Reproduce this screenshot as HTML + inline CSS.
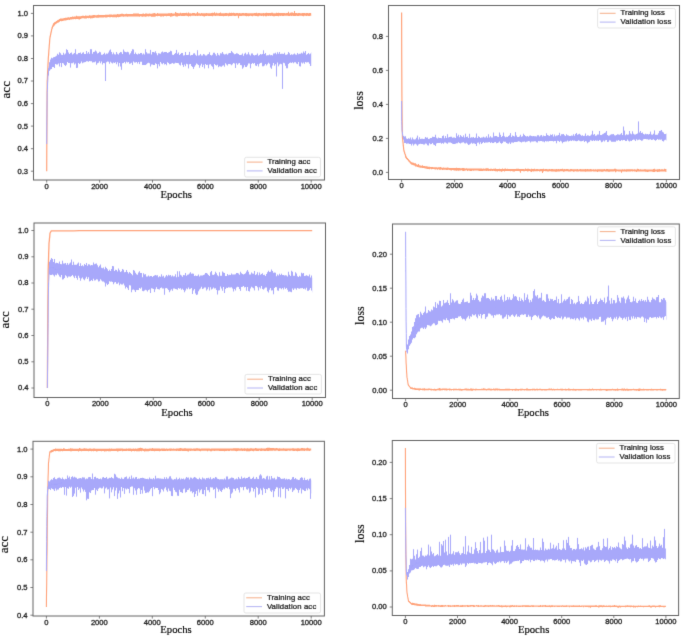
<!DOCTYPE html><html><head><meta charset="utf-8"><style>html,body{margin:0;padding:0;background:#fff;width:685px;height:637px;overflow:hidden;}svg{display:block;}.t{font-family:"Liberation Sans",sans-serif;font-size:6.8px;fill:#1a1a1a;stroke:#222;stroke-width:0.28px;}.lg{font-family:"Liberation Sans",sans-serif;font-size:6.9px;fill:#1a1a1a;stroke:#222;stroke-width:0.25px;}.s{font-family:"Liberation Serif",serif;fill:#000;stroke:#000;stroke-width:0.15px;}</style></head><body>
<svg width="685" height="637" viewBox="0 0 685 637">
<defs><filter id="bl" x="0" y="0" width="685" height="637" filterUnits="userSpaceOnUse" color-interpolation-filters="sRGB"><feConvolveMatrix order="3" kernelMatrix="1 8 1 8 64 8 1 8 1" divisor="100" edgeMode="duplicate"/></filter></defs><g filter="url(#bl)"><rect width="685" height="637" fill="#fff"/>
<clipPath id="cA"><rect x="33.5" y="5.5" width="291" height="174.5"/></clipPath>
<g clip-path="url(#cA)">
<path fill="#FFA27A" d="M46.7 139.2V139.2H47V74.9H48V54.9H49V41.3H50V33.7H51V29.3H52V25.7H53V23.2H54V22.3H55V21.8H56V21.1H57V20.3H58V19.7H59V19H60V18.6H61V18.6H62V18.4H63V18.3H64V17.9H65V17.8H66V17.7H67V17.5H68V17.3H69V17.4H70V17.1H71V17.1H72V16.6H73V16.8H74V16.5H75V16.4H76V15.8H77V16.3H78V16.2H79V16.2H80V16.2H81V16H82V15.7H83V15.7H84V15.9H85V15.6H86V15.7H87V15.8H88V15.7H89V15.3H90V15.5H91V15.6H92V15.2H93V15.1H94V15H95V15.2H96V15.2H97V15.1H98V14.8H99V15H100V15H101V15.1H102V15.1H103V14.9H104V14.9H105V14.8H106V14.8H107V14.8H108V14.8H109V14.5H110V14.6H111V14.5H112V14.7H113V14.6H114V14.4H115V14.6H116V14.4H117V14H118V14.3H119V14.3H120V13.9H121V13.8H122V13.8H123V14H124V14.2H125V14.1H126V13.8H127V14.1H128V14.1H129V13.9H130V14H131V14.1H132V13.9H133V13.4H134V13.6H135V13.6H136V13.6H137V13.5H138V13.5H139V13.9H140V14H141V14H142V13.7H143V13.5H144V13.9H145V13.6H146V13.5H147V13.8H148V13.7H149V13.6H150V13.7H151V13.8H152V13.5H153V13.3H154V13.1H155V13.5H156V13.7H157V13.1H158V13.4H159V13.6H160V13.6H161V13.5H162V13.5H163V13.4H164V13.4H165V13.5H166V13.5H167V13.5H168V13.3H169V13.2H170V13.3H171V13.1H172V13.4H173V13.5H174V13.4H175V11.9H176V12.8H177V13.1H178V13.3H179V13.2H180V12.7H181V13.3H182V12.9H183V12.9H184V13.1H185V12.9H186V12.7H187V13.2H188V12.6H189V13.3H190V13.3H191V13.4H192V12.9H193V13H194V13.1H195V13.4H196V13.2H197V12.1H198V13.3H199V13.3H200V13.4H201V12.9H202V13.2H203V13.3H204V13.2H205V13.3H206V13.1H207V13.2H208V13.3H209V13.3H210V13.2H211V13H212V12.8H213V13H214V12.2H215V13.3H216V12.8H217V13.3H218V13.3H219V13.1H220V12.6H221V13.3H222V13.2H223V13.2H224V13.3H225V13.1H226V12.9H227V13.2H228V13.2H229V12.7H230V12.9H231V12.7H232V12.9H233V12.7H234V12.9H235V13.2H236V13.1H237V13H238V13.2H239V13.1H240V13.2H241V13.2H242V13.1H243V13.1H244V13.3H245V13.1H246V12.9H247V13.3H248V13.2H249V13.2H250V13.3H251V13.2H252V13.2H253V13.3H254V13.1H255V13H256V12.8H257V13.3H258V13.1H259V13.1H260V13.3H261V13.3H262V13.3H263V13.1H264V13.3H265V13.1H266V12.8H267V13.1H268V13.1H269V13H270V12.9H271V12.7H272V12.7H273V13.2H274V13.2H275V13.2H276V12.8H277V12.9H278V12.8H279V12.9H280V13H281V13.1H282V12.9H283V13H284V12.9H285V13.2H286V12.9H287V13.1H288V11.7H289V13.2H290V12.7H291V12.6H292V12.5H293V13.1H294V11.1H295V13.1H296V13H297V13.2H298V13.1H299V12.9H300V13.3H301V13.3H302V13.1H303V13.1H304V13H305V13.2H306V12.9H307V13.1H308V13.3H309V13H310V12.9H311V13.3H311.2V16H311V15.7H310V16.1H309V16H308V15.8H307V15.9H306V15.7H305V15.7H304V16.2H303V16H302V15.8H301V15.8H300V15.8H299V16H298V15.9H297V15.7H296V16.1H295V16H294V15.9H293V15.8H292V15.9H291V15.8H290V16.1H289V16H288V15.8H287V15.8H286V15.8H285V15.8H284V16H283V16H282V15.8H281V16H280V15.8H279V16.2H278V16H277V15.9H276V16.1H275V16.2H274V16.2H273V15.9H272V15.8H271V16H270V15.7H269V16.1H268V15.8H267V16.2H266V16.2H265V15.8H264V16.3H263V15.8H262V15.9H261V15.8H260V15.7H259V16.3H258V16.3H257V16.1H256V15.9H255V15.8H254V15.8H253V16.2H252V16.1H251V15.8H250V15.9H249V16.2H248V16H247V16.2H246V16H245V15.8H244V15.8H243V15.8H242V16.1H241V15.9H240V16.1H239V18.3H238V15.7H237V15.7H236V15.9H235V15.9H234V15.8H233V15.8H232V15.9H231V16.1H230V16H229V16.2H228V15.8H227V16H226V16.1H225V16H224V16.2H223V16.1H222V16H221V15.9H220V15.9H219V15.8H218V15.7H217V15.8H216V16H215V15.7H214V15.8H213V16.2H212V16.1H211V16.1H210V15.9H209V16.1H208V15.7H207V15.9H206V16H205V16.6H204V16.2H203V15.9H202V15.8H201V15.9H200V15.7H199V15.7H198V15.9H197V15.8H196V16H195V15.8H194V15.8H193V15.8H192V15.8H191V16.2H190V15.9H189V16.4H188V16.1H187V15.7H186V15.7H185V16H184V16H183V16.1H182V16.1H181V15.8H180V16H179V16.1H178V16.4H177V16.4H176V16.2H175V15.8H174V16H173V16.3H172V16.5H171V16.8H170V16.1H169V16H168V16H167V16.2H166V16H165V16.1H164V16.4H163V16.2H162V16.6H161V16.4H160V16.1H159V16H158V16.3H157V16.1H156V16.6H155V16.7H154V16.8H153V16.7H152V16.7H151V16.3H150V16.2H149V16.6H148V16.3H147V16.5H146V16.7H145V16.6H144V16.5H143V16.7H142V16.4H141V16.3H140V16.7H139V16.4H138V16.4H137V16.4H136V16.5H135V16.6H134V16.6H133V16.5H132V16.5H131V16.5H130V16.5H129V16.6H128V16.7H127V16.6H126V16.5H125V16.6H124V16.8H123V16.6H122V16.6H121V16.7H120V17.1H119V17.2H118V17.1H117V17.6H116V17.3H115V17.3H114V17.2H113V17.2H112V17.1H111V17.3H110V17.2H109V17.1H108V17.2H107V17.5H106V17.4H105V17.3H104V17.5H103V17.5H102V17.6H101V17.6H100V17.5H99V17.8H98V17.7H97V17.8H96V17.6H95V17.7H94V18H93V18.2H92V18.2H91V18.4H90V18H89V18.3H88V18.1H87V18.6H86V18.6H85V18.5H84V18.3H83V18.3H82V18.6H81V19H80V19.4H79V19.3H78V19.1H77V19.1H76V19.3H75V19.1H74V19.3H73V19.3H72V19.6H71V19.5H70V19.9H69V19.8H68V20.1H67V20.2H66V20.4H65V20.5H64V20.8H63V21.1H62V21.2H61V21.1H60V21.7H59V22.4H58V22.8H57V23.4H56V24.3H55V25.4H54V26.6H53V28.4H52V31.5H51V36.3H50V44.2H49V56.5H48V76H47V139.3H46.7Z"/>
<polyline fill="none" stroke="#FFA27A" stroke-width="1.2" points="46.7,171.2 46.8,143 47,114.8 47.1,97.9 47.2,81 47.4,78.2 47.5,75.4 47.6,72.6 47.8,69.8 47.9,66.9 48,64.1 48.2,61.3 48.3,58.5 48.4,56.8 48.6,55.1 48.7,53.4 48.8,51.7 48.9,50 49.1,48.3 49.2,46.7 49.3,45 49.5,43.3 49.6,41.6 49.7,39.9 49.9,38.2 50,37.6 50.1,36.9 50.3,36.3 50.4,35.7 50.5,35 50.7,34.4 50.8,33.8 50.9,33.1 51.1,32.5 51.2,31.9 51.3,31.2 51.5,30.6 51.6,30 51.7,29.3 51.9,28.7 52,28.1 52.1,27.7 52.3,27.4 52.4,27.1 52.5,26.8 52.7,26.5 52.8,26.2 52.9,25.9 53,25.5 53.2,25.2 53.3,24.9 53.4,24.7 53.6,24.6 53.7,24.5 53.8,24.4 54,24.2 54.1,24.1 54.2,24 54.4,23.9 54.5,23.8 54.6,23.7 54.8,23.6 54.9,23.5 55,23.4 55.2,23.3 55.3,23.2 55.4,23.1 55.6,23 55.7,22.9 55.8,22.8 56,22.7 56.1,22.6 56.2,22.5 56.4,22.4 56.5,22.3 56.6,22.2 56.8,22.1 56.9,22 57,21.9 57.1,21.8 57.3,21.7 57.4,21.7 57.5,21.6 57.7,21.5 57.8,21.4 57.9,21.4 58.1,21.3 58.2,21.2 58.3,21.2 58.5,21.1 58.6,21 58.7,20.9 58.9,20.9 59,20.8 59.1,20.7 59.3,20.6 59.4,20.6 59.5,20.5 59.7,20.4 59.8,20.3 59.9,20.3 60.1,20.2 60.2,20.1 60.3,20.1 60.5,20 60.6,19.9 60.7,19.9 60.9,19.9 61,19.9 61.1,19.8 61.2,19.8 61.4,19.8 61.5,19.8 61.6,19.8 61.8,19.7 61.9,19.7 62,19.7 62.2,19.7 62.3,19.7 62.4,19.6"/>
<path fill="#A8A8FA" d="M46.7 123.3V123.3H47V83.5H48V68.2H49V62.3H50V59.5H51V57.7H52V58.3H53V57.2H54V56.9H55V56.4H56V55.7H57V53.8H58V54.7H59V54.7H60V53.2H61V54.7H62V55.1H63V52.8H64V54.4H65V53.4H66V49.3H67V52.8H68V52.5H69V54H70V52.9H71V52.5H72V54.5H73V53.7H74V53H75V54.6H76V54.2H77V54.2H78V52.9H79V53.1H80V52.5H81V54H82V52.8H83V52.3H84V53.9H85V54.1H86V51.1H87V53.4H88V52.1H89V53.8H90V53.8H91V49.3H92V53.8H93V52.1H94V51.7H95V50.6H96V51.4H97V53.4H98V53.1H99V51.8H100V52.2H101V54.7H102V54.7H103V54.1H104V52.8H105V54.4H106V53.6H107V53.8H108V52.5H109V50.5H110V49.6H111V52H112V54.3H113V52.5H114V54.2H115V54.4H116V51.9H117V53.8H118V54.4H119V53.1H120V52.1H121V52.3H122V53.9H123V52.4H124V51.4H125V52H126V52.3H127V51.7H128V52.2H129V54.4H130V53.2H131V51.2H132V49.2H133V49.5H134V54H135V52.6H136V53.9H137V54.5H138V53.5H139V54H140V53.1H141V52.9H142V54.5H143V53.6H144V54.4H145V49.9H146V52.3H147V53.5H148V53.4H149V53.6H150V54.6H151V54.4H152V51.9H153V51.9H154V52.4H155V51.2H156V53.3H157V55.2H158V53.3H159V53.5H160V53.7H161V52.2H162V51.5H163V52.6H164V52H165V52.1H166V52.1H167V53H168V52.6H169V52.1H170V50.8H171V51.3H172V54.8H173V55H174V54H175V53H176V52.8H177V53.7H178V52.6H179V55H180V54.1H181V53.1H182V52.9H183V55.5H184V55.2H185V51.9H186V55.1H187V54.9H188V54.8H189V53.9H190V55.5H191V55H192V55H193V53.4H194V53.2H195V54.8H196V55.7H197V55.5H198V55.4H199V55.3H200V54.1H201V55.6H202V55.4H203V54.1H204V54.6H205V55.5H206V55.4H207V54.6H208V54H209V52.3H210V55H211V55.4H212V54.8H213V52.8H214V52.7H215V54.3H216V55.7H217V52.9H218V54.8H219V55.5H220V53.3H221V53.6H222V52.1H223V53.8H224V54.4H225V54.2H226V53.7H227V54.7H228V53.4H229V52.9H230V52.9H231V51.1H232V52.2H233V53.3H234V54.2H235V53.9H236V53.3H237V53.6H238V54H239V55.1H240V55H241V54.7H242V53.5H243V55.7H244V53.7H245V52.8H246V54.4H247V54.2H248V52.2H249V54.4H250V55.6H251V53.6H252V53.4H253V55H254V55.4H255V55H256V54.7H257V53.4H258V55.8H259V55.1H260V54.1H261V54.6H262V54.1H263V55.6H264V53.9H265V52.9H266V55.4H267V55.3H268V55.2H269V54.6H270V55.2H271V55H272V55.4H273V53.6H274V53.4H275V52.7H276V54.2H277V55.3H278V53.7H279V51.9H280V53.9H281V53.8H282V53.7H283V53.9H284V52.7H285V54.8H286V54.7H287V54.2H288V52.1H289V53.2H290V54.9H291V54.3H292V54.7H293V54.3H294V53.4H295V54.6H296V54.8H297V53H298V54.2H299V53.7H300V53.8H301V52.7H302V53.6H303V51.5H304V52.7H305V50.9H306V54.8H307V54H308V53H309V54.3H310V53.6H311V52.3H311.2V66H311V65.9H310V63.7H309V62.3H308V62.3H307V62.5H306V62.1H305V63.7H304V62.5H303V63.4H302V62.6H301V64H300V63.5H299V62.1H298V62.8H297V63.4H296V62.2H295V62.3H294V63.2H293V62.3H292V63H291V62.6H290V62.9H289V63.9H288V68.3H287V68.2H286V65.7H285V63.3H284V62.7H283V65.9H282V64.2H281V63.7H280V64.4H279V62.7H278V62.6H277V64.6H276V64.2H275V65.7H274V62.9H273V65.6H272V66.1H271V67.4H270V63.8H269V62.8H268V64.2H267V65.5H266V63.9H265V65.4H264V66.2H263V66.3H262V62.8H261V62.9H260V63.8H259V66.6H258V64.2H257V66.1H256V65.6H255V63.1H254V63.7H253V63H252V63.9H251V63.6H250V63.4H249V63.5H248V65.6H247V67H246V66.9H245V65.3H244V67.5H243V68.7H242V65.3H241V65H240V63H239V63.5H238V64.7H237V63.3H236V63.7H235V63.6H234V63H233V64.3H232V65.3H231V64.2H230V63.9H229V64.1H228V65.4H227V64.5H226V63.3H225V63.3H224V65.2H223V65.8H222V66.7H221V66.6H220V66.3H219V65.9H218V64.7H217V65.6H216V65.1H215V64H214V69.2H213V66.7H212V65.7H211V64.2H210V64.4H209V68.3H208V64.8H207V64.9H206V63.9H205V68.4H204V64.8H203V66.9H202V63.8H201V65.6H200V67.8H199V65.1H198V64.3H197V63.6H196V65.3H195V66.8H194V68.8H193V67H192V66.1H191V63.9H190V64.3H189V64.5H188V64.2H187V63.8H186V66.2H185V64.4H184V65.3H183V65H182V62.5H181V65.4H180V64.8H179V63.3H178V63H177V62.9H176V62.8H175V63.6H174V63.7H173V62.9H172V63.4H171V63.9H170V64.2H169V63.1H168V62.3H167V65.3H166V64H165V64.5H164V63.1H163V64.3H162V63.4H161V62H160V66.2H159V64.3H158V64.4H157V64H156V63.2H155V65.1H154V65.1H153V64.4H152V64.4H151V66.6H150V63.2H149V62.7H148V63.2H147V64.2H146V65H145V64.9H144V64.9H143V65.1H142V61.8H141V61.8H140V63.3H139V61.9H138V63.4H137V62H136V62.5H135V62.6H134V61.6H133V65.1H132V62.7H131V63.6H130V63.8H129V62H128V62.6H127V61.7H126V63.5H125V62.1H124V62.9H123V63.2H122V61.8H121V66.5H120V63.1H119V66.6H118V62.3H117V64.2H116V62.2H115V62.9H114V62.6H113V63.5H112V62.7H111V61.8H110V63.7H109V61.7H108V61.6H107V62.3H106V65.2H105V63.2H104V62.9H103V64.4H102V61.6H101V63.2H100V61.3H99V62.8H98V63.2H97V64.8H96V61.6H95V62.2H94V62.2H93V62.4H92V61.3H91V61.2H90V61H89V61.7H88V61.2H87V61.2H86V61.9H85V62.2H84V62.5H83V63.3H82V61.4H81V63.3H80V64.1H79V62.9H78V67.7H77V68H76V63.4H75V64.4H74V62.4H73V63.3H72V63.3H71V64.1H70V63H69V63H68V62.1H67V64.7H66V65.9H65V64.9H64V63.5H63V62.9H62V64.3H61V63H60V66.5H59V63.6H58V64.5H57V64.6H56V64H55V67.9H54V66.9H53V67H52V68.9H51V69.6H50V70.7H49V75.6H48V88.9H47V124.3H46.7Z"/>
<polyline fill="none" stroke="#A8A8FA" stroke-width="1.0" points="46.7,144.1 46.8,126.1 47,108.1 47.1,100.2 47.2,92.3 47.4,89.3 47.5,86.3 47.6,83.3 47.8,80.3 47.9,77.3 48,74.3 48.2,73.5 48.3,72.7 48.4,71.9 48.6,71.1 48.7,70.3 48.8,69.5 48.9,68.7 49.1,68 49.2,67.2 49.3,66.4 49.5,66 49.6,65.7 49.7,65.4 49.9,65 50,64.7 50.1,64.3 50.3,64 50.4,63.7 50.5,63.3 50.7,63 50.8,62.9 50.9,62.8 51.1,62.8 51.2,62.7 51.3,62.6 51.5,62.5 51.6,62.5 51.7,62.4 51.9,62.3 52,62.2 52.1,62.2 52.3,62.1 52.4,62 52.5,61.9 52.7,61.9 52.8,61.8 52.9,61.7 53,61.6 53.2,61.6 53.3,61.5 53.4,61.4 53.6,61.3 53.7,61.3 53.8,61.2 54,61.1 54.1,61 54.2,61 54.4,60.9 54.5,60.8 54.6,60.7 54.8,60.7 54.9,60.7 55,60.6 55.2,60.6 55.3,60.5 55.4,60.5 55.6,60.5 55.7,60.4 55.8,60.4 56,60.3 56.1,60.3 56.2,60.3 56.4,60.2 56.5,60.2 56.6,60.1 56.8,60.1 56.9,60.1 57,60 57.1,60 57.3,60 57.4,59.9 57.5,59.9 57.7,59.8 57.8,59.8 57.9,59.8 58.1,59.7 58.2,59.7 58.3,59.6 58.5,59.6 58.6,59.6 58.7,59.5 58.9,59.5 59,59.4 59.1,59.4 59.3,59.4 59.4,59.3 59.5,59.3 59.7,59.2 59.8,59.2 59.9,59.2 60.1,59.1 60.2,59.1 60.3,59.1 60.5,59.1 60.6,59.1 60.7,59.1 60.9,59.1 61,59 61.1,59 61.2,59 61.4,59 61.5,59 61.6,59 61.8,59 61.9,58.9 62,58.9 62.2,58.9 62.3,58.9 62.4,58.9"/>
<line x1="188.5" y1="59" x2="188.5" y2="68.4" stroke="#A8A8FA" stroke-width="1"/>
<line x1="300.5" y1="58.6" x2="300.5" y2="66.5" stroke="#A8A8FA" stroke-width="1"/>
<line x1="250.5" y1="59.2" x2="250.5" y2="68.3" stroke="#A8A8FA" stroke-width="1"/>
<line x1="224.5" y1="59.3" x2="224.5" y2="66.7" stroke="#A8A8FA" stroke-width="1"/>
<line x1="61.5" y1="59" x2="61.5" y2="67.1" stroke="#A8A8FA" stroke-width="1"/>
<line x1="245.5" y1="59.2" x2="245.5" y2="67" stroke="#A8A8FA" stroke-width="1"/>
<line x1="183.5" y1="59" x2="183.5" y2="66.9" stroke="#A8A8FA" stroke-width="1"/>
<line x1="271.5" y1="58.9" x2="271.5" y2="68.8" stroke="#A8A8FA" stroke-width="1"/>
<line x1="157.5" y1="58.4" x2="157.5" y2="68.4" stroke="#A8A8FA" stroke-width="1"/>
<line x1="70.5" y1="58.2" x2="70.5" y2="67.6" stroke="#A8A8FA" stroke-width="1"/>
<line x1="278.5" y1="58.9" x2="278.5" y2="66.3" stroke="#A8A8FA" stroke-width="1"/>
<line x1="235.5" y1="59.3" x2="235.5" y2="68" stroke="#A8A8FA" stroke-width="1"/>
<line x1="299.5" y1="58.6" x2="299.5" y2="66.2" stroke="#A8A8FA" stroke-width="1"/>
<line x1="193.5" y1="59.1" x2="193.5" y2="68.7" stroke="#A8A8FA" stroke-width="1"/>
<line x1="218.5" y1="59.3" x2="218.5" y2="67.2" stroke="#A8A8FA" stroke-width="1"/>
<line x1="75.5" y1="58" x2="75.5" y2="49.2" stroke="#A8A8FA" stroke-width="1"/>
<line x1="176.5" y1="58.9" x2="176.5" y2="49.9" stroke="#A8A8FA" stroke-width="1"/>
<line x1="90.5" y1="57.6" x2="90.5" y2="49.2" stroke="#A8A8FA" stroke-width="1"/>
<line x1="263.5" y1="59" x2="263.5" y2="50.3" stroke="#A8A8FA" stroke-width="1"/>
<line x1="59.5" y1="59.4" x2="59.5" y2="52.3" stroke="#A8A8FA" stroke-width="1"/>
<line x1="67.5" y1="58.3" x2="67.5" y2="50" stroke="#A8A8FA" stroke-width="1"/>
<line x1="145.5" y1="58.1" x2="145.5" y2="49.2" stroke="#A8A8FA" stroke-width="1"/>
<line x1="150.5" y1="58.2" x2="150.5" y2="49.9" stroke="#A8A8FA" stroke-width="1"/>
<line x1="277.5" y1="58.9" x2="277.5" y2="52.2" stroke="#A8A8FA" stroke-width="1"/>
<line x1="197.5" y1="59.1" x2="197.5" y2="50.2" stroke="#A8A8FA" stroke-width="1"/>
<line x1="189.5" y1="59" x2="189.5" y2="51.9" stroke="#A8A8FA" stroke-width="1"/>
<line x1="123.5" y1="57.9" x2="123.5" y2="49.5" stroke="#A8A8FA" stroke-width="1"/>
<line x1="76.5" y1="58" x2="76.5" y2="66.4" stroke="#A8A8FA" stroke-width="1"/>
<line x1="105.5" y1="57.7" x2="105.5" y2="81" stroke="#A8A8FA" stroke-width="1"/>
<line x1="121.5" y1="57.9" x2="121.5" y2="69.8" stroke="#A8A8FA" stroke-width="1"/>
<line x1="139.5" y1="58" x2="139.5" y2="64.1" stroke="#A8A8FA" stroke-width="1"/>
<line x1="184.5" y1="59" x2="184.5" y2="64.1" stroke="#A8A8FA" stroke-width="1"/>
<line x1="276.5" y1="58.9" x2="276.5" y2="76.5" stroke="#A8A8FA" stroke-width="1"/>
<line x1="282.5" y1="58.8" x2="282.5" y2="88.9" stroke="#A8A8FA" stroke-width="1"/>
<line x1="297.5" y1="58.6" x2="297.5" y2="64.1" stroke="#A8A8FA" stroke-width="1"/>
</g>
<rect x="33.5" y="5.5" width="291" height="174.5" fill="none" stroke="#626262" stroke-width="1"/>
<line x1="30.9" y1="171.2" x2="33.5" y2="171.2" stroke="#626262" stroke-width="0.8"/>
<line x1="30.9" y1="148.7" x2="33.5" y2="148.7" stroke="#626262" stroke-width="0.8"/>
<line x1="30.9" y1="126.1" x2="33.5" y2="126.1" stroke="#626262" stroke-width="0.8"/>
<line x1="30.9" y1="103.6" x2="33.5" y2="103.6" stroke="#626262" stroke-width="0.8"/>
<line x1="30.9" y1="81" x2="33.5" y2="81" stroke="#626262" stroke-width="0.8"/>
<line x1="30.9" y1="58.5" x2="33.5" y2="58.5" stroke="#626262" stroke-width="0.8"/>
<line x1="30.9" y1="35.9" x2="33.5" y2="35.9" stroke="#626262" stroke-width="0.8"/>
<line x1="30.9" y1="13.4" x2="33.5" y2="13.4" stroke="#626262" stroke-width="0.8"/>
<line x1="46.7" y1="180" x2="46.7" y2="182.6" stroke="#626262" stroke-width="0.8"/>
<line x1="99.6" y1="180" x2="99.6" y2="182.6" stroke="#626262" stroke-width="0.8"/>
<line x1="152.5" y1="180" x2="152.5" y2="182.6" stroke="#626262" stroke-width="0.8"/>
<line x1="205.4" y1="180" x2="205.4" y2="182.6" stroke="#626262" stroke-width="0.8"/>
<line x1="258.3" y1="180" x2="258.3" y2="182.6" stroke="#626262" stroke-width="0.8"/>
<line x1="311.2" y1="180" x2="311.2" y2="182.6" stroke="#626262" stroke-width="0.8"/>
<rect x="244.6" y="157.3" width="75.9" height="19.7" rx="1.8" fill="#fff" fill-opacity="0.8" stroke="#ddd" stroke-width="0.8"/>
<line x1="246.8" y1="162.1" x2="262.6" y2="162.1" stroke="#F5B18C" stroke-width="1.05"/>
<line x1="246.8" y1="170.9" x2="262.6" y2="170.9" stroke="#B6B6F4" stroke-width="1.05"/>
<clipPath id="cB"><rect x="388.5" y="5.5" width="291" height="174"/></clipPath>
<g clip-path="url(#cB)">
<path fill="#FFA27A" d="M401.6 75.4V75.4H402V137.2H403V146.5H404V151.4H405V154.4H406V156.7H407V157.9H408V159.2H409V160.4H410V161.4H411V162.2H412V162.6H413V162.7H414V163.2H415V163.2H416V164.4H417V164.7H418V164.1H419V165.3H420V165.4H421V165.7H422V165.3H423V165.9H424V166H425V166.3H426V166.2H427V166.5H428V166.7H429V166.7H430V166.9H431V167H432V166.9H433V167.2H434V167.3H435V167.2H436V167.3H437V167.4H438V167.3H439V167.3H440V167H441V167.6H442V167.7H443V167.6H444V167.8H445V167.7H446V167.7H447V167.5H448V167.7H449V167.9H450V168H451V168.1H452V168.1H453V167.9H454V168.1H455V167.9H456V167.7H457V168.1H458V167.9H459V168.1H460V168.2H461V168.2H462V168H463V168.1H464V168.2H465V168.5H466V168.3H467V168.5H468V168.4H469V168.5H470V168.5H471V168.5H472V168.6H473V168.4H474V168.5H475V168.4H476V168.6H477V168.6H478V168.6H479V168.5H480V168.6H481V168.6H482V168.8H483V168.6H484V168.8H485V168.6H486V168.3H487V168.2H488V168.4H489V168.9H490V168.7H491V168.7H492V168.9H493V168.8H494V168.8H495V168.5H496V168.9H497V168.9H498V168.9H499V168.8H500V169H501V168.9H502V168.6H503V168.9H504V168.7H505V168.6H506V169H507V168.8H508V169H509V169H510V168.9H511V168.9H512V169H513V169H514V169H515V169.1H516V168.8H517V168.8H518V168.8H519V169H520V169H521V169H522V169H523V169H524V169.2H525V168.6H526V169H527V168.8H528V168.8H529V168.9H530V169.3H531V168.8H532V169.1H533V169.1H534V168.7H535V169.2H536V169.1H537V169H538V169.2H539V169.2H540V169.1H541V169.1H542V169H543V168.7H544V169.2H545V169H546V169H547V169.3H548V169.3H549V169.1H550V169.2H551V168.9H552V169.1H553V169.2H554V169.3H555V169.3H556V169.1H557V169.3H558V169.1H559V169.3H560V169H561V168.9H562V168.8H563V169.3H564V168.9H565V169.2H566V169.1H567V168.9H568V169.2H569V169.4H570V169H571V169H572V169.3H573V169.2H574V169.3H575V169.2H576V169.2H577V169.1H578V169.4H579V169.2H580V169.1H581V169.2H582V169.3H583V169.3H584V169.2H585V169.1H586V169.2H587V168.9H588V169.2H589V169.2H590V169.1H591V169.3H592V169.4H593V169.2H594V169.4H595V169.3H596V169.4H597V169.3H598V169.3H599V169.3H600V169.2H601V169.2H602V169.3H603V169.3H604V169.1H605V169.4H606V169.1H607V169.1H608V169.3H609V169.3H610V169.3H611V169.3H612V169.2H613V169.2H614V168.8H615V168.8H616V169.2H617V169.4H618V169.4H619V169.5H620V169.4H621V169.4H622V169.2H623V169.4H624V169.3H625V169.4H626V169.2H627V169.3H628V169.3H629V169.2H630V169.3H631V169.2H632V169.3H633V169.5H634V169.3H635V169.4H636V169.4H637V168.8H638V169.1H639V169.5H640V169.2H641V169.5H642V169.4H643V169.5H644V169.2H645V169.3H646V169.5H647V169.5H648V169.6H649V169.4H650V169.6H651V169.5H652V169.5H653V169.1H654V168.7H655V169.4H656V169.5H657V169.3H658V169.3H659V169H660V169.6H661V169.3H662V169.3H663V169.4H664V168.7H665V169.1H666V169H666.4V172H666V171.8H665V171.6H664V171.4H663V171.6H662V171.6H661V171.6H660V171.7H659V171.8H658V171.9H657V171.5H656V171.6H655V171.9H654V171.9H653V171.7H652V171.6H651V171.4H650V171.6H649V171.8H648V171.9H647V171.8H646V171.7H645V171.6H644V171.6H643V171.5H642V171.4H641V171.5H640V171.4H639V171.6H638V171.4H637V172H636V171.6H635V171.5H634V171.3H633V171.6H632V171.3H631V171.4H630V171.5H629V171.4H628V171.4H627V171.8H626V171.6H625V171.5H624V171.6H623V171.4H622V172.7H621V171.4H620V171.5H619V171.4H618V171.3H617V171.5H616V172.2H615V171.3H614V171.4H613V171.4H612V171.4H611V171.4H610V171.8H609V171.7H608V171.6H607V171.6H606V171.5H605V171.3H604V171.4H603V171.7H602V171.7H601V171.6H600V171.5H599V171.4H598V171.9H597V171.5H596V171.5H595V171.6H594V171.6H593V171.3H592V171.5H591V171.4H590V171.4H589V171.5H588V171.5H587V171.6H586V171.7H585V171.4H584V171.4H583V171.6H582V171.4H581V171.4H580V171.3H579V171.6H578V171.5H577V171.6H576V171.3H575V171.6H574V171.8H573V171.2H572V171.2H571V171.4H570V171.4H569V171.4H568V171.3H567V171.2H566V171.2H565V171.5H564V171.8H563V171.2H562V171.3H561V171.3H560V171.5H559V171.6H558V171.5H557V171.8H556V171.7H555V171.4H554V171.5H553V171.5H552V171.5H551V171.3H550V171.2H549V171.5H548V171.4H547V171.3H546V171.2H545V171.1H544V171.5H543V172.9H542V171.2H541V171.2H540V171.4H539V171.1H538V171.2H537V171.2H536V171.2H535V171.2H534V171.4H533V171.2H532V171.9H531V171.6H530V171.1H529V171.3H528V171.5H527V171.1H526V171.1H525V171.2H524V171.2H523V171H522V171H521V172.7H520V171.2H519V171H518V171.1H517V171.1H516V170.9H515V171.4H514V171.4H513V171.2H512V170.9H511V171.2H510V171H509V171H508V170.9H507V170.9H506V171H505V171.5H504V170.9H503V171.3H502V171.7H501V171.2H500V171.3H499V171.1H498V171.4H497V171.3H496V171.3H495V171.1H494V170.8H493V170.9H492V170.8H491V170.9H490V170.7H489V170.9H488V170.8H487V170.9H486V170.8H485V170.7H484V170.8H483V170.9H482V170.9H481V170.9H480V170.9H479V170.7H478V170.6H477V170.6H476V170.6H475V170.6H474V170.7H473V170.5H472V170.9H471V171.1H470V170.7H469V170.4H468V171H467V170.3H466V170.5H465V170.7H464V170.9H463V170.8H462V170.3H461V170.4H460V170.5H459V170.7H458V170.6H457V170.7H456V170.4H455V170.5H454V170.3H453V170.1H452V170.5H451V170.3H450V170.1H449V169.8H448V170H447V169.9H446V169.7H445V169.7H444V169.7H443V169.9H442V169.6H441V169.7H440V169.7H439V169.3H438V169.8H437V169.3H436V169.4H435V169.2H434V169.1H433V169.1H432V169.2H431V168.8H430V169.2H429V168.9H428V169.1H427V168.7H426V168.6H425V168.3H424V168.1H423V167.9H422V167.8H421V167.8H420V167.4H419V167.2H418V167.1H417V166.6H416V166.4H415V165.6H414V165.3H413V164.8H412V164.6H411V163.6H410V162.3H409V161.3H408V160.1H407V159H406V157.4H405V153.6H404V148.1H403V138H402V75.6H401.6Z"/>
<polyline fill="none" stroke="#FFA27A" stroke-width="1.2" points="401.6,12.6 401.7,54.3 401.9,95.9 402,107.2 402.1,118.6 402.3,129.9 402.4,134.2 402.5,138 402.7,139.3 402.8,140.5 402.9,141.8 403.1,143.1 403.2,144.4 403.3,145.7 403.5,147 403.6,148.2 403.7,149.5 403.9,150.5 404,150.9 404.1,151.3 404.2,151.7 404.4,152.1 404.5,152.4 404.6,152.8 404.8,153.2 404.9,153.6 405,154 405.2,154.4 405.3,154.8 405.4,155.2 405.6,155.6 405.7,156 405.8,156.4 406,156.8 406.1,157.2 406.2,157.6 406.4,157.9 406.5,158 406.6,158.2 406.8,158.3 406.9,158.5 407,158.6 407.2,158.8 407.3,158.9 407.4,159.1 407.6,159.2 407.7,159.4 407.8,159.5 408,159.7 408.1,159.8 408.2,159.9 408.4,160.1 408.5,160.2 408.6,160.4 408.7,160.5 408.9,160.7 409,160.8 409.1,161 409.3,161.1 409.4,161.3 409.5,161.4 409.7,161.6 409.8,161.7 409.9,161.9 410.1,162 410.2,162.2 410.3,162.3 410.5,162.5 410.6,162.6 410.7,162.8 410.9,162.9 411,163.1 411.1,163.2 411.3,163.4 411.4,163.4 411.5,163.5 411.7,163.5 411.8,163.6 411.9,163.6 412.1,163.7 412.2,163.7 412.3,163.8 412.5,163.8 412.6,163.9 412.7,163.9 412.9,164 413,164 413.1,164.1 413.3,164.1 413.4,164.2 413.5,164.2 413.6,164.3 413.8,164.3 413.9,164.4 414,164.4 414.2,164.5 414.3,164.5 414.4,164.5 414.6,164.6 414.7,164.6 414.8,164.7 415,164.7 415.1,164.8 415.2,164.8 415.4,164.9 415.5,164.9 415.6,165 415.8,165 415.9,165.1 416,165.1 416.2,165.2 416.3,165.2 416.4,165.3 416.6,165.3 416.7,165.4 416.8,165.4 417,165.5 417.1,165.5 417.2,165.6 417.4,165.6"/>
<path fill="#A8A8FA" d="M401.6 123.5V123.5H402V132.6H403V135.9H404V136.6H405V136.3H406V138.6H407V139H408V138.2H409V138.8H410V137.4H411V139.5H412V139.3H413V139.2H414V139.6H415V139.2H416V137.7H417V138.9H418V139.4H419V137.3H420V138.9H421V138.7H422V138.8H423V139H424V138.8H425V136.9H426V137.8H427V137.6H428V139H429V138.8H430V138.1H431V138.1H432V136.7H433V137H434V137H435V134.7H436V137.7H437V138.6H438V137.5H439V138.1H440V138.1H441V138.2H442V136H443V135.4H444V138.3H445V137.6H446V138.1H447V137.6H448V137.6H449V137H450V136.7H451V136.8H452V137.7H453V137.5H454V137.4H455V137.9H456V133.2H457V136.3H458V134.7H459V137.2H460V136.7H461V136.3H462V137H463V138.1H464V137.6H465V137.4H466V137H467V136.5H468V137.9H469V137H470V137.7H471V137.2H472V137.4H473V137H474V138.1H475V137.5H476V133.5H477V137.9H478V136.2H479V136.9H480V137.9H481V137.5H482V137.5H483V136.7H484V137.4H485V137.5H486V136.2H487V137.7H488V134.2H489V137.5H490V136.3H491V137.4H492V137.4H493V132.5H494V136.3H495V136H496V136H497V136.8H498V136.9H499V136.9H500V134.9H501V136.9H502V135.9H503V136.3H504V136.2H505V137.2H506V136.7H507V137.1H508V135.9H509V135.2H510V136.8H511V137.1H512V135.4H513V136.1H514V136.4H515V136.5H516V135.5H517V137H518V136.9H519V136.6H520V134.8H521V136.8H522V136.3H523V133.8H524V134.9H525V135.9H526V136.6H527V136.1H528V136.7H529V135.8H530V135.5H531V136H532V136.3H533V135.9H534V136.3H535V136.2H536V136.5H537V135.3H538V135.2H539V136.4H540V135.4H541V135H542V136.5H543V135.6H544V136.1H545V136H546V134.7H547V135H548V135.5H549V135.9H550V134.4H551V134.9H552V134.2H553V136.4H554V134.4H555V136.3H556V135.4H557V135.5H558V135.1H559V135.4H560V135.8H561V134.3H562V134.3H563V134H564V135.2H565V136.1H566V134.2H567V135.3H568V135.4H569V136H570V136.1H571V135.6H572V135.7H573V134.3H574V135.8H575V134.1H576V132.9H577V134.7H578V134.2H579V135H580V134.7H581V135.7H582V135.2H583V136H584V135.7H585V133.6H586V135.9H587V135.3H588V135.4H589V135.9H590V135.6H591V134.6H592V134.1H593V134.7H594V134H595V135.7H596V135.4H597V134.4H598V134.5H599V130.9H600V134.9H601V134.9H602V134.2H603V133.8H604V133.1H605V132.4H606V131.1H607V135H608V135.8H609V135.6H610V134.7H611V134.3H612V134.2H613V134.1H614V135.3H615V135.6H616V134.9H617V134.2H618V134.4H619V134.8H620V134.2H621V133H622V135.1H623V134.8H624V133.9H625V135.3H626V134.3H627V134.8H628V134.4H629V131.1H630V133.6H631V134.2H632V134.4H633V133.7H634V134.4H635V134.6H636V133.9H637V133.5H638V134.1H639V132.4H640V130.9H641V133H642V132.5H643V133.9H644V134.5H645V133.7H646V134.3H647V134H648V134.5H649V134.1H650V133.2H651V134.5H652V134.7H653V133.7H654V134.7H655V134.8H656V134.7H657V134.7H658V133.2H659V131H660V130.7H661V130.1H662V131.8H663V132.4H664V134.1H665V133.9H666V133.5H666.4V140.5H666V139.8H665V140.2H664V141.4H663V141H662V139.6H661V139.7H660V139.5H659V139.8H658V139.1H657V139.9H656V140.7H655V140.1H654V139.3H653V139.7H652V139.9H651V139.2H650V139.5H649V139.8H648V139.2H647V139.2H646V139.1H645V139.1H644V139.3H643V140.4H642V140.7H641V139.9H640V139.5H639V139.8H638V140.3H637V139.2H636V141.1H635V139.7H634V139.4H633V139.9H632V140.9H631V140.8H630V141.5H629V140.7H628V139.6H627V141H626V140.9H625V140H624V140.1H623V140.4H622V140H621V140.9H620V140.8H619V139.9H618V140.8H617V140.5H616V141.8H615V141.7H614V141.8H613V141.7H612V141.7H611V140.4H610V140.2H609V141.7H608V142H607V140.1H606V140.3H605V141.6H604V140.4H603V141.7H602V142.2H601V140.6H600V140.1H599V140.9H598V140.4H597V140.8H596V140.2H595V140.9H594V140.3H593V141.1H592V140.5H591V140.3H590V141.7H589V142.2H588V143.3H587V141.6H586V141H585V141.9H584V140.4H583V141.1H582V141.2H581V141.2H580V140.7H579V140.3H578V140.9H577V141.3H576V141.1H575V140.5H574V140.8H573V140.2H572V140.9H571V140.6H570V141H569V141.4H568V140.4H567V141.4H566V141.4H565V141.8H564V142H563V143.2H562V141.4H561V140.7H560V142.1H559V140.9H558V140.7H557V143.2H556V141.1H555V140.9H554V141.4H553V140.9H552V140.9H551V141H550V141H549V141.5H548V141.3H547V141.5H546V141H545V142.3H544V141.5H543V141.6H542V140.9H541V140.9H540V141.3H539V141H538V142.6H537V142.2H536V141.3H535V141.3H534V141.4H533V141.5H532V141.6H531V142.6H530V141.2H529V141H528V141.4H527V141.8H526V142.2H525V141.6H524V141.8H523V141.8H522V142.4H521V142H520V141.6H519V141.3H518V141.7H517V142H516V142H515V142H514V142.7H513V142.4H512V142.5H511V144.1H510V142.5H509V143.8H508V143.4H507V142.9H506V141.8H505V141.7H504V141.6H503V143.1H502V143.8H501V143.1H500V141.6H499V142.4H498V142.9H497V143.3H496V142H495V142.2H494V142.9H493V143H492V142.2H491V142.9H490V142.1H489V142.3H488V142.5H487V142.6H486V142.6H485V142.9H484V142.1H483V143H482V143.9H481V142.3H480V144.2H479V142.6H478V142.7H477V145.9H476V144H475V143.6H474V143.3H473V143.8H472V142.7H471V143.7H470V144.5H469V145H468V143.7H467V142.7H466V143.6H465V143.3H464V142.3H463V142.5H462V142.8H461V143.5H460V142.9H459V142.3H458V143.3H457V143.3H456V143.8H455V144H454V144H453V143.7H452V143H451V142.6H450V142.5H449V142.6H448V143.7H447V143.3H446V142.6H445V142.5H444V143.7H443V143.1H442V143.8H441V142.7H440V142.9H439V142.9H438V142.9H437V143.4H436V146.1H435V145H434V144.6H433V143.1H432V143.9H431V144.3H430V143.3H429V145.5H428V145.2H427V143.8H426V143.4H425V144.5H424V144.6H423V143.9H422V143.9H421V143.8H420V144H419V144.4H418V145.7H417V144.4H416V143.8H415V144.2H414V145.6H413V143.8H412V145.5H411V144.1H410V144.1H409V143.4H408V143.5H407V143.8H406V143.1H405V143H404V139.4H403V134.7H402V123.8H401.6Z"/>
<polyline fill="none" stroke="#A8A8FA" stroke-width="1.0" points="401.6,101 401.7,121.4 401.9,125.8 402,130.2 402.1,131.2 402.3,132.1 402.4,133 402.5,133.9 402.7,134.9 402.8,135.8 402.9,136.7 403.1,137 403.2,137.2 403.3,137.5 403.5,137.8 403.6,138.1 403.7,138.3 403.9,138.6 404,138.9 404.1,139.2 404.2,139.4 404.4,139.7 404.5,139.8 404.6,139.9 404.8,139.9 404.9,140 405,140 405.2,140.1 405.3,140.2 405.4,140.2 405.6,140.3 405.7,140.3 405.8,140.4 406,140.5 406.1,140.5 406.2,140.6 406.4,140.6 406.5,140.7 406.6,140.8 406.8,140.8 406.9,140.9 407,140.9 407.2,141 407.3,141 407.4,141.1 407.6,141.2 407.7,141.2 407.8,141.3 408,141.3 408.1,141.4 408.2,141.5 408.4,141.5 408.5,141.5 408.6,141.5 408.7,141.5 408.9,141.5 409,141.5 409.1,141.5 409.3,141.6 409.4,141.6 409.5,141.6 409.7,141.6 409.8,141.6 409.9,141.6 410.1,141.6 410.2,141.6 410.3,141.7 410.5,141.7 410.6,141.7 410.7,141.7 410.9,141.7 411,141.7 411.1,141.7 411.3,141.7 411.4,141.8 411.5,141.8 411.7,141.8 411.8,141.8 411.9,141.8 412.1,141.8 412.2,141.8 412.3,141.8 412.5,141.8 412.6,141.9 412.7,141.9 412.9,141.9 413,141.9 413.1,141.9 413.3,141.9 413.4,141.9 413.5,141.9 413.6,142 413.8,142 413.9,142 414,142 414.2,141.9 414.3,141.9 414.4,141.9 414.6,141.9 414.7,141.9 414.8,141.9 415,141.9 415.1,141.9 415.2,141.9 415.4,141.9 415.5,141.9 415.6,141.9 415.8,141.9 415.9,141.9 416,141.8 416.2,141.8 416.3,141.8 416.4,141.8 416.6,141.8 416.7,141.8 416.8,141.8 417,141.8 417.1,141.8 417.2,141.8 417.4,141.8"/>
<line x1="412.5" y1="141.9" x2="412.5" y2="137.5" stroke="#A8A8FA" stroke-width="1"/>
<line x1="510.5" y1="139.2" x2="510.5" y2="133.1" stroke="#A8A8FA" stroke-width="1"/>
<line x1="445.5" y1="140.5" x2="445.5" y2="136.1" stroke="#A8A8FA" stroke-width="1"/>
<line x1="469.5" y1="140.1" x2="469.5" y2="133.8" stroke="#A8A8FA" stroke-width="1"/>
<line x1="447.5" y1="140.4" x2="447.5" y2="134.2" stroke="#A8A8FA" stroke-width="1"/>
<line x1="579.5" y1="138.2" x2="579.5" y2="133.8" stroke="#A8A8FA" stroke-width="1"/>
<line x1="546.5" y1="138.6" x2="546.5" y2="133.3" stroke="#A8A8FA" stroke-width="1"/>
<line x1="515.5" y1="139.1" x2="515.5" y2="132.1" stroke="#A8A8FA" stroke-width="1"/>
<line x1="433.5" y1="140.9" x2="433.5" y2="136.9" stroke="#A8A8FA" stroke-width="1"/>
<line x1="650.5" y1="136.8" x2="650.5" y2="131.6" stroke="#A8A8FA" stroke-width="1"/>
<line x1="460.5" y1="140.1" x2="460.5" y2="135.1" stroke="#A8A8FA" stroke-width="1"/>
<line x1="503.5" y1="139.3" x2="503.5" y2="132.5" stroke="#A8A8FA" stroke-width="1"/>
<line x1="463.5" y1="140.1" x2="463.5" y2="135.4" stroke="#A8A8FA" stroke-width="1"/>
<line x1="559.5" y1="138.4" x2="559.5" y2="132.8" stroke="#A8A8FA" stroke-width="1"/>
<line x1="654.5" y1="136.9" x2="654.5" y2="130.4" stroke="#A8A8FA" stroke-width="1"/>
<line x1="500.5" y1="139.4" x2="500.5" y2="134.8" stroke="#A8A8FA" stroke-width="1"/>
<line x1="624.5" y1="137.5" x2="624.5" y2="130.6" stroke="#A8A8FA" stroke-width="1"/>
<line x1="417.5" y1="141.8" x2="417.5" y2="135.6" stroke="#A8A8FA" stroke-width="1"/>
<line x1="632.5" y1="137.2" x2="632.5" y2="131.3" stroke="#A8A8FA" stroke-width="1"/>
<line x1="465.5" y1="140.1" x2="465.5" y2="133.7" stroke="#A8A8FA" stroke-width="1"/>
<line x1="623.5" y1="137.5" x2="623.5" y2="126.5" stroke="#A8A8FA" stroke-width="1"/>
<line x1="638.5" y1="137" x2="638.5" y2="121.4" stroke="#A8A8FA" stroke-width="1"/>
<line x1="592.5" y1="138.1" x2="592.5" y2="130.8" stroke="#A8A8FA" stroke-width="1"/>
<line x1="499.5" y1="139.4" x2="499.5" y2="132.5" stroke="#A8A8FA" stroke-width="1"/>
</g>
<rect x="388.5" y="5.5" width="291" height="174" fill="none" stroke="#626262" stroke-width="1"/>
<line x1="385.9" y1="172.4" x2="388.5" y2="172.4" stroke="#626262" stroke-width="0.8"/>
<line x1="385.9" y1="138.4" x2="388.5" y2="138.4" stroke="#626262" stroke-width="0.8"/>
<line x1="385.9" y1="104.4" x2="388.5" y2="104.4" stroke="#626262" stroke-width="0.8"/>
<line x1="385.9" y1="70.4" x2="388.5" y2="70.4" stroke="#626262" stroke-width="0.8"/>
<line x1="385.9" y1="36.4" x2="388.5" y2="36.4" stroke="#626262" stroke-width="0.8"/>
<line x1="401.6" y1="179.5" x2="401.6" y2="182.1" stroke="#626262" stroke-width="0.8"/>
<line x1="454.6" y1="179.5" x2="454.6" y2="182.1" stroke="#626262" stroke-width="0.8"/>
<line x1="507.5" y1="179.5" x2="507.5" y2="182.1" stroke="#626262" stroke-width="0.8"/>
<line x1="560.5" y1="179.5" x2="560.5" y2="182.1" stroke="#626262" stroke-width="0.8"/>
<line x1="613.4" y1="179.5" x2="613.4" y2="182.1" stroke="#626262" stroke-width="0.8"/>
<line x1="666.4" y1="179.5" x2="666.4" y2="182.1" stroke="#626262" stroke-width="0.8"/>
<rect x="597.6" y="8.5" width="77.9" height="19.5" rx="1.8" fill="#fff" fill-opacity="0.8" stroke="#ddd" stroke-width="0.8"/>
<line x1="599.8" y1="13.3" x2="615.6" y2="13.3" stroke="#F5B18C" stroke-width="1.05"/>
<line x1="599.8" y1="22.1" x2="615.6" y2="22.1" stroke="#B6B6F4" stroke-width="1.05"/>
<clipPath id="cC"><rect x="34" y="223" width="291.5" height="174.5"/></clipPath>
<g clip-path="url(#cC)">
<path fill="#FFA27A" d="M47.4 331.1V331.1H48V259.8H49V238.6H50V232.3H51V230.8H52V230.8H53V230.8H54V230.8H55V230.8H56V230.8H57V230.8H58V230.8H59V230.8H60V230.8H61V230.8H62V230.8H63V230.8H64V230.8H65V230.8H66V230.8H67V230.8H68V230.8H69V230.8H70V230.8H71V230.8H72V230.8H73V230.8H74V230.8H75V230.8H76V230.7H77V230.7H78V230.7H79V230.7H80V230.7H81V230.7H82V230.7H83V230.7H84V230.7H85V230.7H86V230.7H87V230.7H88V230.7H89V230.7H90V230.7H91V230.7H92V230.7H93V230.7H94V230.7H95V230.7H96V230.7H97V230.7H98V230.7H99V230.7H100V230.7H101V230.7H102V230.7H103V230.7H104V230.7H105V230.7H106V230.7H107V230.7H108V230.7H109V230.7H110V230.7H111V230.7H112V230.7H113V230.7H114V230.7H115V230.7H116V230.7H117V230.7H118V230.7H119V230.7H120V230.7H121V230.7H122V230.7H123V230.7H124V230.7H125V230.7H126V230.7H127V230.7H128V230.7H129V230.7H130V230.7H131V230.7H132V230.7H133V230.7H134V230.7H135V230.7H136V230.7H137V230.7H138V230.7H139V230.7H140V230.7H141V230.7H142V230.7H143V230.7H144V230.7H145V230.7H146V230.7H147V230.7H148V230.7H149V230.7H150V230.7H151V230.7H152V230.7H153V230.7H154V230.7H155V230.7H156V230.7H157V230.7H158V230.7H159V230.7H160V230.7H161V230.7H162V230.7H163V230.7H164V230.7H165V230.7H166V230.7H167V230.7H168V230.7H169V230.7H170V230.7H171V230.7H172V230.7H173V230.7H174V230.7H175V230.7H176V230.7H177V230.7H178V230.7H179V230.7H180V230.7H181V230.7H182V230.7H183V230.7H184V230.7H185V230.7H186V230.7H187V230.7H188V230.7H189V230.7H190V230.7H191V230.7H192V230.7H193V230.7H194V230.7H195V230.7H196V230.7H197V230.7H198V230.7H199V230.7H200V230.7H201V230.7H202V230.7H203V230.7H204V230.7H205V230.7H206V230.7H207V230.7H208V230.7H209V230.7H210V230.7H211V230.7H212V230.7H213V230.7H214V230.7H215V230.7H216V230.7H217V230.7H218V230.7H219V230.7H220V230.7H221V230.7H222V230.7H223V230.7H224V230.7H225V230.7H226V230.7H227V230.7H228V230.7H229V230.7H230V230.7H231V230.7H232V230.7H233V230.7H234V230.7H235V230.7H236V230.7H237V230.7H238V230.7H239V230.7H240V230.7H241V230.7H242V230.7H243V230.7H244V230.7H245V230.7H246V230.7H247V230.7H248V230.7H249V230.7H250V230.7H251V230.7H252V230.7H253V230.7H254V230.7H255V230.7H256V230.7H257V230.7H258V230.7H259V230.7H260V230.7H261V230.7H262V230.7H263V230.7H264V230.7H265V230.7H266V230.7H267V230.7H268V230.7H269V230.7H270V230.7H271V230.7H272V230.7H273V230.7H274V230.7H275V230.6H276V230.6H277V230.6H278V230.6H279V230.6H280V230.6H281V230.6H282V230.6H283V230.6H284V230.6H285V230.6H286V230.6H287V230.6H288V230.6H289V230.6H290V230.6H291V230.6H292V230.6H293V230.6H294V230.6H295V230.6H296V230.6H297V230.6H298V230.6H299V230.6H300V230.6H301V230.6H302V230.6H303V230.6H304V230.6H305V230.6H306V230.6H307V230.6H308V230.6H309V230.6H310V230.6H311V230.6H312V230.6H312.2V230.6H312V230.6H311V230.6H310V230.6H309V230.6H308V230.6H307V230.6H306V230.6H305V230.6H304V230.6H303V230.6H302V230.6H301V230.6H300V230.6H299V230.6H298V230.6H297V230.6H296V230.6H295V230.6H294V230.6H293V230.6H292V230.6H291V230.6H290V230.6H289V230.6H288V230.6H287V230.6H286V230.6H285V230.6H284V230.6H283V230.6H282V230.6H281V230.6H280V230.6H279V230.6H278V230.6H277V230.6H276V230.6H275V230.7H274V230.7H273V230.7H272V230.7H271V230.7H270V230.7H269V230.7H268V230.7H267V230.7H266V230.7H265V230.7H264V230.7H263V230.7H262V230.7H261V230.7H260V230.7H259V230.7H258V230.7H257V230.7H256V230.7H255V230.7H254V230.7H253V230.7H252V230.7H251V230.7H250V230.7H249V230.7H248V230.7H247V230.7H246V230.7H245V230.7H244V230.7H243V230.7H242V230.7H241V230.7H240V230.7H239V230.7H238V230.7H237V230.7H236V230.7H235V230.7H234V230.7H233V230.7H232V230.7H231V230.7H230V230.7H229V230.7H228V230.7H227V230.7H226V230.7H225V230.7H224V230.7H223V230.7H222V230.7H221V230.7H220V230.7H219V230.7H218V230.7H217V230.7H216V230.7H215V230.7H214V230.7H213V230.7H212V230.7H211V230.7H210V230.7H209V230.7H208V230.7H207V230.7H206V230.7H205V230.7H204V230.7H203V230.7H202V230.7H201V230.7H200V230.7H199V230.7H198V230.7H197V230.7H196V230.7H195V230.7H194V230.7H193V230.7H192V230.7H191V230.7H190V230.7H189V230.7H188V230.7H187V230.7H186V230.7H185V230.7H184V230.7H183V230.7H182V230.7H181V230.7H180V230.7H179V230.7H178V230.7H177V230.7H176V230.7H175V230.7H174V230.7H173V230.7H172V230.7H171V230.7H170V230.7H169V230.7H168V230.7H167V230.7H166V230.7H165V230.7H164V230.7H163V230.7H162V230.7H161V230.7H160V230.7H159V230.7H158V230.7H157V230.7H156V230.7H155V230.7H154V230.7H153V230.7H152V230.7H151V230.7H150V230.7H149V230.7H148V230.7H147V230.7H146V230.7H145V230.7H144V230.7H143V230.7H142V230.7H141V230.7H140V230.7H139V230.7H138V230.7H137V230.7H136V230.7H135V230.7H134V230.7H133V230.7H132V230.7H131V230.7H130V230.7H129V230.7H128V230.7H127V230.7H126V230.7H125V230.7H124V230.7H123V230.7H122V230.7H121V230.7H120V230.7H119V230.7H118V230.7H117V230.7H116V230.7H115V230.7H114V230.7H113V230.7H112V230.7H111V230.7H110V230.7H109V230.7H108V230.7H107V230.7H106V230.7H105V230.7H104V230.7H103V230.7H102V230.7H101V230.7H100V230.7H99V230.7H98V230.7H97V230.7H96V230.7H95V230.7H94V230.7H93V230.7H92V230.7H91V230.7H90V230.7H89V230.7H88V230.7H87V230.7H86V230.7H85V230.7H84V230.7H83V230.7H82V230.7H81V230.7H80V230.7H79V230.7H78V230.7H77V230.7H76V230.8H75V230.8H74V230.8H73V230.8H72V230.8H71V230.8H70V230.8H69V230.8H68V230.8H67V230.8H66V230.8H65V230.8H64V230.8H63V230.8H62V230.8H61V230.8H60V230.8H59V230.8H58V230.8H57V230.8H56V230.8H55V230.8H54V230.8H53V230.8H52V230.8H51V232.3H50V238.6H49V259.8H48V331.1H47.4Z"/>
<polyline fill="none" stroke="#FFA27A" stroke-width="1.3" points="47.4,388 47.5,361.8 47.7,335.5 47.8,319.1 47.9,302.7 48.1,286.3 48.2,269.9 48.3,265.5 48.5,261.1 48.6,256.8 48.7,252.4 48.9,248 49,243.6 49.1,242.3 49.3,241 49.4,239.7 49.5,238.4 49.7,237.1 49.8,235.8 49.9,234.4 50,233.1 50.2,232.9 50.3,232.7 50.4,232.4 50.6,232.2 50.7,231.9 50.8,231.7 51,231.5 51.1,231.2 51.2,231 51.4,230.8 51.5,230.8 51.6,230.8 51.8,230.8 51.9,230.8 52,230.8 52.2,230.8 52.3,230.8 52.4,230.8 52.6,230.8 52.7,230.8 52.8,230.8 53,230.8 53.1,230.8 53.2,230.8 53.4,230.8 53.5,230.8 53.6,230.8 53.8,230.8 53.9,230.8 54,230.8 54.2,230.8 54.3,230.8 54.4,230.8 54.5,230.8 54.7,230.8 54.8,230.8 54.9,230.8 55.1,230.8 55.2,230.8 55.3,230.8 55.5,230.8 55.6,230.8 55.7,230.8 55.9,230.8 56,230.8 56.1,230.8 56.3,230.8 56.4,230.8 56.5,230.8 56.7,230.8 56.8,230.8 56.9,230.8 57.1,230.8 57.2,230.8 57.3,230.8 57.5,230.8 57.6,230.8 57.7,230.8 57.9,230.8 58,230.8 58.1,230.8 58.3,230.8 58.4,230.8 58.5,230.8 58.7,230.8 58.8,230.8 58.9,230.8 59.1,230.8 59.2,230.8 59.3,230.8 59.4,230.8 59.6,230.8 59.7,230.8 59.8,230.8 60,230.8 60.1,230.8 60.2,230.8 60.4,230.8 60.5,230.8 60.6,230.8 60.8,230.8 60.9,230.8 61,230.8 61.2,230.8 61.3,230.8 61.4,230.8 61.6,230.8 61.7,230.8 61.8,230.8 62,230.8 62.1,230.8 62.2,230.8 62.4,230.8 62.5,230.8 62.6,230.8 62.8,230.8 62.9,230.8 63,230.8 63.2,230.8 63.3,230.8 68.6,230.8 73.9,230.8 79.2,230.7 84.5,230.7 89.8,230.7 95.1,230.7 100.4,230.7 105.7,230.7 111,230.7 116.2,230.7 121.5,230.7 126.8,230.7 132.1,230.7 137.4,230.7 142.7,230.7 148,230.7 153.3,230.7 158.6,230.7 163.9,230.7 169.2,230.7 174.5,230.7 179.8,230.7 185.1,230.7 190.4,230.7 195.7,230.7 201,230.7 206.3,230.7 211.6,230.7 216.9,230.7 222.2,230.7 227.5,230.7 232.8,230.7 238.1,230.7 243.4,230.7 248.6,230.7 253.9,230.7 259.2,230.7 264.5,230.7 269.8,230.7 275.1,230.6 280.4,230.6 285.7,230.6 291,230.6 296.3,230.6 301.6,230.6 306.9,230.6 312.2,230.6"/>
<path fill="#A8A8FA" d="M47.4 356.5V356.5H48V283H49V261.8H50V259.8H51V257.9H52V258.9H53V262.1H54V258.9H55V263.3H56V262.7H57V263.1H58V263.5H59V263.7H60V263.9H61V264.2H62V264.6H63V263.5H64V263.4H65V263.1H66V264.7H67V263H68V264.8H69V263.5H70V262.6H71V259.4H72V265.1H73V261.8H74V264.8H75V264.8H76V264.8H77V264.3H78V262.5H79V266H80V263.3H81V266H82V265.2H83V266.3H84V264H85V265H86V263H87V265.7H88V264.3H89V264.4H90V265.5H91V265.1H92V265.9H93V262.6H94V264.2H95V263.7H96V263.4H97V265.2H98V267.3H99V265.7H100V264.4H101V267.7H102V268.3H103V267.5H104V269.2H105V266.7H106V268H107V269.3H108V271H109V269.7H110V271.1H111V269H112V266.1H113V266.3H114V271H115V269.8H116V270.1H117V271.6H118V268.5H119V270.2H120V272.1H121V271.3H122V269H123V269.8H124V272.3H125V272H126V270.1H127V271.9H128V273.4H129V271.9H130V273.1H131V274.1H132V275.3H133V269.9H134V270.8H135V272.7H136V274.2H137V274.7H138V272.6H139V271.3H140V273.1H141V273H142V277.3H143V273.2H144V274.5H145V274.5H146V276.6H147V276.5H148V275.4H149V276.4H150V276H151V275.9H152V277.1H153V275.9H154V275.5H155V274.9H156V275.4H157V275.2H158V277.3H159V276.2H160V276.7H161V276.6H162V276.5H163V275.7H164V277.7H165V276.5H166V275.1H167V276.2H168V274.8H169V275.4H170V275H171V276.4H172V275.4H173V276.5H174V276.3H175V274.3H176V277.2H177V271.3H178V276.8H179V271.2H180V274.7H181V275.6H182V276.7H183V275.1H184V275.2H185V273H186V275.8H187V274.7H188V274.4H189V273.6H190V272.2H191V273.7H192V273.5H193V273.8H194V276.1H195V275.4H196V276H197V275.7H198V274.6H199V276.5H200V275.6H201V275.5H202V275.6H203V274.9H204V274.5H205V273H206V272.9H207V273.7H208V275H209V275.9H210V272.3H211V271H212V274.7H213V274.9H214V274.3H215V271.8H216V273.3H217V275.3H218V276.2H219V272.2H220V275.7H221V275.7H222V271.5H223V272.6H224V273.1H225V276H226V276H227V274.1H228V275.2H229V274.8H230V275H231V273.5H232V274.4H233V274.5H234V274.4H235V274.2H236V273H237V273H238V273.5H239V274.7H240V271.7H241V273.3H242V273.9H243V274.6H244V274.1H245V273.2H246V271.4H247V270H248V271.7H249V274.4H250V274.6H251V272.4H252V273.6H253V273.8H254V271H255V274.9H256V274.2H257V272.2H258V275.3H259V272.5H260V274.7H261V274H262V273.2H263V274.9H264V274.8H265V276.1H266V274.1H267V272.2H268V270.8H269V271.9H270V271.7H271V269.6H272V270.9H273V272.8H274V272.5H275V272.8H276V276.3H277V274.5H278V275.4H279V273.7H280V274.9H281V276H282V274.9H283V275.1H284V275.6H285V275.2H286V275.4H287V276.6H288V271.7H289V274.8H290V276H291V270.7H292V271.7H293V275.8H294V275.7H295V272.3H296V273.5H297V276.3H298V276.9H299V275.8H300V276.5H301V272.8H302V273.4H303V272.9H304V275.9H305V275.7H306V275.3H307V275.8H308V276.2H309V274.4H310V277.4H311V275.4H312V277.7H312.2V292.6H312V290.4H311V288H310V289.7H309V290.7H308V290.7H307V287.8H306V289.4H305V288.4H304V288.9H303V287.9H302V288.3H301V288.2H300V288.8H299V288.5H298V288H297V289.7H296V288.6H295V288.5H294V290H293V288.6H292V289.9H291V291.7H290V291.4H289V291.7H288V289.8H287V287.9H286V289H285V287.6H284V289.5H283V287.9H282V289.2H281V288.3H280V288.3H279V290.7H278V288.5H277V287.3H276V287H275V288.1H274V294.2H273V289H272V290.6H271V287.9H270V289.8H269V292.5H268V291.3H267V287.4H266V287.5H265V288.4H264V287.3H263V289H262V286.1H261V288.6H260V287.2H259V290.4H258V287.3H257V286.1H256V286H255V289.4H254V288.2H253V287.4H252V286.8H251V288.5H250V291.4H249V290.9H248V286.9H247V290.7H246V287.1H245V286.1H244V286.1H243V286.7H242V286.9H241V288.4H240V289H239V286.9H238V286.8H237V287.4H236V289H235V289H234V291.5H233V288.4H232V287.2H231V287.4H230V287.5H229V287.3H228V287.9H227V287.7H226V289H225V292.9H224V287.1H223V290.8H222V288.5H221V286.5H220V290.2H219V290.4H218V294.4H217V290.1H216V288.3H215V288.4H214V287.5H213V288.8H212V289.5H211V287.2H210V290.5H209V287.3H208V289.3H207V290.5H206V287.6H205V287.6H204V288.5H203V288.9H202V286.8H201V288.6H200V289.5H199V291.2H198V294.5H197V295.1H196V293.6H195V288.9H194V290.5H193V293.9H192V288H191V288.7H190V289.3H189V287.5H188V289.3H187V288.6H186V290.5H185V292.2H184V290H183V288.7H182V289.8H181V288.2H180V288.7H179V288.1H178V289.7H177V289.3H176V289.1H175V288.4H174V288.5H173V290.8H172V289.3H171V290.5H170V289.5H169V290H168V288.8H167V288.1H166V288.2H165V294.7H164V288.5H163V288.4H162V287.5H161V288.1H160V289.4H159V289.2H158V288.9H157V287.2H156V289.3H155V287.6H154V288.9H153V288.5H152V288.3H151V293H150V289.4H149V289.9H148V291.5H147V290.2H146V289.7H145V290.4H144V291.3H143V289.1H142V287.6H141V288.8H140V288H139V289.9H138V290H137V289.9H136V292.1H135V290.2H134V289.6H133V289.7H132V292.3H131V285.6H130V285.2H129V290H128V288.2H127V287.1H126V288.4H125V285.5H124V283.4H123V284.6H122V284.4H121V283.7H120V285.3H119V282.6H118V283.8H117V283.8H116V282H115V282.4H114V284.3H113V282H112V281.4H111V281.7H110V281.2H109V284.1H108V285H107V283.6H106V286.4H105V282.4H104V281.5H103V281.6H102V280.6H101V279.2H100V281.3H99V281.4H98V279.4H97V279.2H96V280.2H95V280.4H94V278.8H93V281H92V279.9H91V281H90V278.7H89V277.2H88V279.1H87V276.8H86V278.4H85V280.2H84V279.3H83V277.5H82V278.4H81V280.8H80V277.7H79V275.7H78V279.8H77V275.3H76V275.8H75V276.1H74V275.2H73V275H72V276.1H71V276.7H70V276.5H69V276.6H68V277.7H67V276.2H66V275.2H65V275.2H64V279.3H63V279.4H62V275H61V277.3H60V276.4H59V274.7H58V273.6H57V275.3H56V274.7H55V276.4H54V275.2H53V274.4H52V275H51V275.1H50V274.5H49V292.1H48V359.4H47.4Z"/>
<polyline fill="none" stroke="#A8A8FA" stroke-width="1.0" points="47.4,388 47.5,374.9 47.7,361.8 47.8,348.6 47.9,335.5 48.1,323.7 48.2,311.9 48.3,300.1 48.5,288.2 48.6,284.9 48.7,281.5 48.9,278.1 49,274.8 49.1,271.4 49.3,268 49.4,268 49.5,268.1 49.7,268.1 49.8,268.1 49.9,268.1 50,268.1 50.2,268.1 50.3,268.1 50.4,268.1 50.6,268.2 50.7,268.2 50.8,268.2 51,268.2 51.1,268.2 51.2,268.2 51.4,268.2 51.5,268.2 51.6,268.3 51.8,268.3 51.9,268.3 52,268.3 52.2,268.3 52.3,268.3 52.4,268.3 52.6,268.3 52.7,268.4 52.8,268.4 53,268.4 53.1,268.4 53.2,268.4 53.4,268.4 53.5,268.4 53.6,268.4 53.8,268.5 53.9,268.5 54,268.5 54.2,268.5 54.3,268.5 54.4,268.5 54.5,268.5 54.7,268.5 54.8,268.6 54.9,268.6 55.1,268.6 55.2,268.6 55.3,268.6 55.5,268.6 55.6,268.6 55.7,268.6 55.9,268.6 56,268.7 56.1,268.7 56.3,268.7 56.4,268.7 56.5,268.7 56.7,268.7 56.8,268.7 56.9,268.7 57.1,268.8 57.2,268.8 57.3,268.8 57.5,268.8 57.6,268.8 57.7,268.8 57.9,268.8 58,268.8 58.1,268.9 58.3,268.9 58.4,268.9 58.5,268.9 58.7,268.9 58.8,268.9 58.9,268.9 59.1,268.9 59.2,269 59.3,269 59.4,269 59.6,269 59.7,269 59.8,269 60,269 60.1,269 60.2,269.1 60.4,269.1 60.5,269.1 60.6,269.1 60.8,269.1 60.9,269.1 61,269.1 61.2,269.1 61.3,269.2 61.4,269.2 61.6,269.2 61.7,269.2 61.8,269.2 62,269.2 62.1,269.2 62.2,269.2 62.4,269.3 62.5,269.3 62.6,269.3 62.8,269.3 62.9,269.3 63,269.3 63.2,269.3"/>
<line x1="125.5" y1="278.4" x2="125.5" y2="286.4" stroke="#A8A8FA" stroke-width="1"/>
<line x1="76.5" y1="270.7" x2="76.5" y2="278" stroke="#A8A8FA" stroke-width="1"/>
<line x1="73.5" y1="270.4" x2="73.5" y2="276.5" stroke="#A8A8FA" stroke-width="1"/>
<line x1="128.5" y1="279" x2="128.5" y2="285.5" stroke="#A8A8FA" stroke-width="1"/>
<line x1="135.5" y1="280.3" x2="135.5" y2="289.3" stroke="#A8A8FA" stroke-width="1"/>
<line x1="64.5" y1="269.5" x2="64.5" y2="278" stroke="#A8A8FA" stroke-width="1"/>
<line x1="89.5" y1="272.2" x2="89.5" y2="281.4" stroke="#A8A8FA" stroke-width="1"/>
<line x1="244.5" y1="280.5" x2="244.5" y2="287.4" stroke="#A8A8FA" stroke-width="1"/>
<line x1="272.5" y1="281.4" x2="272.5" y2="290.3" stroke="#A8A8FA" stroke-width="1"/>
<line x1="74.5" y1="270.5" x2="74.5" y2="278.1" stroke="#A8A8FA" stroke-width="1"/>
<line x1="235.5" y1="280.8" x2="235.5" y2="290.5" stroke="#A8A8FA" stroke-width="1"/>
<line x1="99.5" y1="273.7" x2="99.5" y2="280.7" stroke="#A8A8FA" stroke-width="1"/>
<line x1="254.5" y1="280.6" x2="254.5" y2="290.4" stroke="#A8A8FA" stroke-width="1"/>
<line x1="79.5" y1="271" x2="79.5" y2="277.3" stroke="#A8A8FA" stroke-width="1"/>
<line x1="248.5" y1="280.4" x2="248.5" y2="287.7" stroke="#A8A8FA" stroke-width="1"/>
<line x1="154.5" y1="282.6" x2="154.5" y2="292.1" stroke="#A8A8FA" stroke-width="1"/>
<line x1="246.5" y1="280.5" x2="246.5" y2="289.1" stroke="#A8A8FA" stroke-width="1"/>
<line x1="277.5" y1="281.5" x2="277.5" y2="290.4" stroke="#A8A8FA" stroke-width="1"/>
<line x1="263.5" y1="281" x2="263.5" y2="289.6" stroke="#A8A8FA" stroke-width="1"/>
<line x1="207.5" y1="281.5" x2="207.5" y2="287.7" stroke="#A8A8FA" stroke-width="1"/>
<line x1="288.5" y1="281.6" x2="288.5" y2="272.9" stroke="#A8A8FA" stroke-width="1"/>
<line x1="145.5" y1="282.2" x2="145.5" y2="274.3" stroke="#A8A8FA" stroke-width="1"/>
<line x1="59.5" y1="269" x2="59.5" y2="261.5" stroke="#A8A8FA" stroke-width="1"/>
<line x1="215.5" y1="281.3" x2="215.5" y2="274.4" stroke="#A8A8FA" stroke-width="1"/>
<line x1="161.5" y1="282.8" x2="161.5" y2="274.3" stroke="#A8A8FA" stroke-width="1"/>
<line x1="92.5" y1="272.6" x2="92.5" y2="265.2" stroke="#A8A8FA" stroke-width="1"/>
<line x1="77.5" y1="270.8" x2="77.5" y2="263.6" stroke="#A8A8FA" stroke-width="1"/>
<line x1="281.5" y1="281.5" x2="281.5" y2="273.7" stroke="#A8A8FA" stroke-width="1"/>
<line x1="62.5" y1="269.3" x2="62.5" y2="260.7" stroke="#A8A8FA" stroke-width="1"/>
<line x1="224.5" y1="281.1" x2="224.5" y2="273.5" stroke="#A8A8FA" stroke-width="1"/>
<line x1="84.5" y1="271.5" x2="84.5" y2="279.1" stroke="#A8A8FA" stroke-width="1"/>
<line x1="142.5" y1="281.8" x2="142.5" y2="290.9" stroke="#A8A8FA" stroke-width="1"/>
<line x1="169.5" y1="282.9" x2="169.5" y2="292.2" stroke="#A8A8FA" stroke-width="1"/>
<line x1="240.5" y1="280.7" x2="240.5" y2="290.9" stroke="#A8A8FA" stroke-width="1"/>
<line x1="291.5" y1="281.7" x2="291.5" y2="292.2" stroke="#A8A8FA" stroke-width="1"/>
</g>
<rect x="34" y="223" width="291.5" height="174.5" fill="none" stroke="#626262" stroke-width="1"/>
<line x1="31.4" y1="388" x2="34" y2="388" stroke="#626262" stroke-width="0.8"/>
<line x1="31.4" y1="361.8" x2="34" y2="361.8" stroke="#626262" stroke-width="0.8"/>
<line x1="31.4" y1="335.5" x2="34" y2="335.5" stroke="#626262" stroke-width="0.8"/>
<line x1="31.4" y1="309.2" x2="34" y2="309.2" stroke="#626262" stroke-width="0.8"/>
<line x1="31.4" y1="283" x2="34" y2="283" stroke="#626262" stroke-width="0.8"/>
<line x1="31.4" y1="256.8" x2="34" y2="256.8" stroke="#626262" stroke-width="0.8"/>
<line x1="31.4" y1="230.5" x2="34" y2="230.5" stroke="#626262" stroke-width="0.8"/>
<line x1="47.4" y1="397.5" x2="47.4" y2="400.1" stroke="#626262" stroke-width="0.8"/>
<line x1="100.4" y1="397.5" x2="100.4" y2="400.1" stroke="#626262" stroke-width="0.8"/>
<line x1="153.3" y1="397.5" x2="153.3" y2="400.1" stroke="#626262" stroke-width="0.8"/>
<line x1="206.3" y1="397.5" x2="206.3" y2="400.1" stroke="#626262" stroke-width="0.8"/>
<line x1="259.2" y1="397.5" x2="259.2" y2="400.1" stroke="#626262" stroke-width="0.8"/>
<line x1="312.2" y1="397.5" x2="312.2" y2="400.1" stroke="#626262" stroke-width="0.8"/>
<rect x="245" y="374.4" width="76.4" height="19.6" rx="1.8" fill="#fff" fill-opacity="0.8" stroke="#ddd" stroke-width="0.8"/>
<line x1="247.2" y1="379.2" x2="263" y2="379.2" stroke="#F5B18C" stroke-width="1.05"/>
<line x1="247.2" y1="388" x2="263" y2="388" stroke="#B6B6F4" stroke-width="1.05"/>
<clipPath id="cD"><rect x="392.5" y="224" width="286.8" height="174.5"/></clipPath>
<g clip-path="url(#cD)">
<path fill="#FFA27A" d="M405.6 355.4V355.4H406V369.4H407V380H408V384.7H409V385.9H410V387H411V387.4H412V387.6H413V388H414V387.8H415V388.2H416V388.5H417V388.6H418V388.4H419V388.4H420V388.6H421V388.7H422V388.4H423V388.4H424V388.3H425V388.7H426V388.7H427V388.8H428V388.6H429V388.6H430V388.7H431V388.8H432V388.9H433V388.9H434V388.8H435V388.9H436V388.9H437V388.7H438V388.4H439V388.1H440V388.5H441V388.7H442V388.5H443V388.6H444V388.6H445V388.6H446V388.6H447V388.8H448V388.8H449V388.5H450V388.7H451V388.9H452V388.9H453V388.7H454V388.7H455V388.8H456V388.7H457V388.9H458V388.8H459V388.8H460V388.7H461V388.9H462V388.9H463V388.9H464V388.7H465V388.6H466V388.6H467V388.8H468V388.8H469V388.9H470V388.4H471V388.5H472V388.8H473V388.7H474V388.9H475V388.8H476V388.7H477V388.9H478V388.9H479V388.9H480V388.9H481V388.8H482V388.7H483V388.3H484V388.4H485V388.8H486V388.9H487V388.7H488V388.6H489V388.6H490V388.7H491V388.7H492V389H493V388.6H494V388.7H495V388.6H496V388.4H497V388.4H498V388.8H499V388.8H500V389H501V388.9H502V388.9H503V389H504V388.9H505V388.8H506V388.7H507V388.8H508V388.7H509V388.7H510V388.9H511V388.9H512V389H513V389H514V388.9H515V388.8H516V388.8H517V389H518V388.9H519V389H520V388.7H521V388.8H522V388.8H523V388.9H524V388.9H525V389H526V388.5H527V388.6H528V388.9H529V389H530V388.9H531V389H532V388.7H533V388.8H534V388.8H535V388.9H536V388.8H537V388.8H538V389H539V388.8H540V388.8H541V389H542V389H543V389H544V388.9H545V389H546V389H547V388.9H548V388.8H549V388.5H550V388.8H551V388.6H552V389H553V388.8H554V388.9H555V388.9H556V388.9H557V388.8H558V388.9H559V389H560V388.8H561V388.7H562V388.8H563V389.1H564V388.9H565V388.8H566V388.9H567V389.1H568V388.6H569V388.7H570V389.1H571V389H572V389H573V388.8H574V389H575V389.1H576V388.9H577V389H578V389.1H579V388.9H580V389H581V389H582V389H583V388.9H584V389.1H585V388.9H586V389H587V389H588V389H589V388.7H590V389H591V389H592V388.5H593V388.9H594V388.9H595V389.1H596V389H597V389H598V389H599V389.1H600V388.8H601V388.9H602V389.1H603V389.1H604V389.1H605V389H606V389H607V389.1H608V389.1H609V389H610V388.9H611V388.9H612V388.8H613V389.1H614V389H615V389H616V389.1H617V388.6H618V388.9H619V389H620V389H621V388.8H622V388.6H623V388.7H624V388.6H625V389H626V388.8H627V388.8H628V388.9H629V389.1H630V389H631V389H632V389H633V388.7H634V388.9H635V389H636V389H637V389H638V388.8H639V388.5H640V388.8H641V389H642V389.1H643V388.8H644V389.1H645V388.9H646V389.1H647V389.1H648V389H649V388.9H650V388.9H651V388.8H652V388.9H653V389H654V388.9H655V389H656V389.1H657V389H658V389.1H659V389.1H660V388.8H661V388.9H662V389.1H663V389H664V388.9H665V389H666V388.9H666.3V390.3H666V390.4H665V390.4H664V390.6H663V390.7H662V390.5H661V390.6H660V390.3H659V390.3H658V390.5H657V390.5H656V390.3H655V390.3H654V390.4H653V390.5H652V390.6H651V390.5H650V390.3H649V390.4H648V390.4H647V390.6H646V390.3H645V390.4H644V390.6H643V390.4H642V390.5H641V390.4H640V391H639V390.9H638V390.6H637V390.8H636V390.4H635V390.5H634V390.3H633V390.3H632V390.4H631V390.4H630V390.5H629V390.8H628V390.7H627V390.6H626V390.7H625V390.5H624V390.7H623V390.5H622V390.4H621V390.3H620V390.3H619V390.5H618V390.7H617V390.6H616V390.7H615V390.6H614V390.6H613V390.3H612V390.5H611V390.4H610V390.5H609V390.5H608V390.8H607V391H606V390.6H605V390.3H604V390.3H603V390.3H602V390.4H601V390.4H600V390.6H599V390.3H598V390.3H597V390.4H596V390.3H595V390.2H594V390.4H593V390.2H592V390.5H591V390.4H590V390.4H589V390.4H588V390.5H587V390.2H586V390.3H585V390.2H584V390.3H583V390.3H582V390.4H581V390.6H580V390.5H579V390.6H578V390.2H577V390.5H576V390.7H575V390.4H574V390.5H573V390.4H572V390.3H571V390.6H570V390.5H569V390.5H568V390.3H567V390.4H566V390.4H565V390.3H564V390.2H563V390.4H562V390.5H561V390.3H560V390.2H559V390.2H558V390.3H557V390.2H556V390.3H555V390.5H554V390.3H553V390.6H552V390.2H551V390.3H550V390.3H549V390.2H548V390.3H547V390.4H546V390.5H545V390.6H544V390.3H543V390.6H542V390.6H541V390.3H540V390.3H539V390.3H538V390.6H537V390.2H536V390.5H535V390.5H534V390.2H533V390.4H532V390.3H531V390.4H530V390.5H529V390.5H528V390.5H527V390.6H526V390.2H525V390.4H524V390.3H523V390.2H522V390.4H521V390.5H520V390.2H519V390.8H518V390.4H517V390.6H516V390.7H515V390.6H514V390.3H513V390.7H512V390.3H511V390.2H510V390.5H509V390.4H508V390.5H507V390.6H506V390.4H505V390.5H504V390.6H503V390.5H502V390.4H501V390.6H500V390.4H499V390.2H498V390.4H497V390.3H496V390.4H495V390.5H494V390.3H493V390.2H492V390.4H491V390.5H490V390.3H489V390.2H488V390.2H487V390.4H486V390.2H485V390.2H484V390.3H483V390.2H482V390.2H481V390.2H480V390.3H479V390.2H478V390.2H477V390.3H476V390.4H475V390.3H474V390.2H473V390.7H472V390.8H471V390.6H470V390.6H469V390.5H468V390.5H467V390.6H466V390.2H465V390.2H464V390.3H463V390.6H462V390.8H461V390.4H460V390.4H459V390.2H458V390.3H457V390.2H456V390.2H455V390.2H454V390.4H453V390.1H452V390.4H451V390.3H450V390.4H449V390.1H448V390.3H447V390.5H446V390.3H445V390.3H444V390.1H443V390.2H442V390.3H441V390.5H440V390.4H439V390.2H438V390.3H437V390.5H436V390.8H435V390.4H434V390.5H433V390.2H432V390.4H431V390.2H430V390.1H429V390.3H428V390.2H427V390.2H426V390.3H425V390.5H424V390.3H423V390.3H422V390.1H421V390.1H420V390.5H419V390.3H418V390H417V389.9H416V390H415V389.5H414V389.3H413V389.2H412V389H411V388.5H410V387.1H409V385.8H408V380.7H407V369.7H406V355.5H405.6Z"/>
<polyline fill="none" stroke="#FFA27A" stroke-width="1.1" points="405.6,350.8 405.7,353.8 405.9,356.9 406,359.9 406.1,363 406.3,365.3 406.4,367.5 406.5,369.8 406.6,372.1 406.8,374.3 406.9,376.6 407,377.4 407.2,378.2 407.3,379 407.4,379.9 407.6,380.7 407.7,381.5 407.8,382.3 407.9,383.1 408.1,383.9 408.2,384.8 408.3,384.9 408.5,385.1 408.6,385.3 408.7,385.4 408.9,385.6 409,385.8 409.1,385.9 409.2,386.1 409.4,386.3 409.5,386.5 409.6,386.6 409.8,386.8 409.9,387 410,387.1 410.2,387.3 410.3,387.5 410.4,387.6 410.6,387.8 410.7,388 410.8,388.2 410.9,388.2 411.1,388.2 411.2,388.2 411.3,388.3 411.5,388.3 411.6,388.3 411.7,388.3 411.9,388.4 412,388.4 412.1,388.4 412.2,388.4 412.4,388.5 412.5,388.5 412.6,388.5 412.8,388.5 412.9,388.6 413,388.6 413.2,388.6 413.3,388.6 413.4,388.7 413.6,388.7 413.7,388.7 413.8,388.7 413.9,388.8 414.1,388.8 414.2,388.8 414.3,388.8 414.5,388.9 414.6,388.9 414.7,388.9 414.9,389 415,389 415.1,389 415.2,389 415.4,389.1 415.5,389.1 415.6,389.1 415.8,389.1 415.9,389.2 416,389.2 416.2,389.2 416.3,389.2 416.4,389.2 416.5,389.2 416.7,389.2 416.8,389.2 416.9,389.2 417.1,389.2 417.2,389.2 417.3,389.2 417.5,389.2 417.6,389.2 417.7,389.2 417.9,389.2 418,389.2 418.1,389.2 418.2,389.2 418.4,389.2 418.5,389.2 418.6,389.2 418.8,389.2 418.9,389.2 419,389.2 419.2,389.2 419.3,389.3 419.4,389.3 419.5,389.3 419.7,389.3 419.8,389.3 419.9,389.3 420.1,389.3 420.2,389.3 420.3,389.3 420.5,389.3 420.6,389.3 420.7,389.3 420.9,389.3 421,389.3 421.1,389.3"/>
<path fill="#A8A8FA" d="M405.6 270.3V270.3H406V344.1H407V344.6H408V339.4H409V335.9H410V334.4H411V331.6H412V327.1H413V326.2H414V322H415V318.3H416V315.3H417V314.5H418V313.9H419V317.2H420V311.8H421V313.6H422V315H423V312.9H424V311.7H425V306.5H426V313.2H427V312.7H428V310.1H429V311.3H430V311.5H431V309.4H432V310.2H433V306.4H434V307.2H435V308H436V307.9H437V303.4H438V304.7H439V300.8H440V301H441V306.6H442V305.5H443V303H444V303.2H445V302.8H446V302.3H447V302.9H448V303H449V304.9H450V302H451V302.5H452V301H453V300.4H454V302.5H455V301.4H456V300.5H457V303.2H458V303.6H459V303.9H460V303.8H461V302H462V299.8H463V298.6H464V302.2H465V301.9H466V301.7H467V301.6H468V302.9H469V302.8H470V299.6H471V295.6H472V299.9H473V298.1H474V300H475V298.2H476V300H477V295.6H478V300.1H479V301.4H480V301.5H481V297.7H482V295.4H483V296.3H484V293.3H485V293.3H486V298.2H487V297.9H488V298H489V299.1H490V300.6H491V297.5H492V299.4H493V298.7H494V300.5H495V296.1H496V296.1H497V299.8H498V299.2H499V300H500V297H501V295.8H502V299.7H503V301.8H504V300.8H505V300.7H506V299.9H507V297.1H508V299.4H509V297.3H510V299.7H511V300.1H512V298.6H513V294.3H514V296.5H515V295.9H516V296.7H517V300.1H518V300.9H519V300.9H520V301H521V298.5H522V300.1H523V301.5H524V299.7H525V300H526V297.6H527V294.6H528V299.3H529V302.5H530V299.9H531V301.7H532V298.5H533V290.9H534V289.3H535V295.5H536V296.9H537V294.9H538V298.6H539V297.8H540V297.7H541V300.3H542V300.8H543V300H544V301.2H545V302.1H546V294.3H547V295.4H548V298.6H549V300.9H550V298.8H551V299.3H552V302.7H553V301H554V300H555V299.9H556V296.4H557V302.7H558V298.9H559V303.6H560V303H561V303.6H562V302.6H563V300.7H564V299.2H565V300.8H566V299.5H567V299H568V302.4H569V303.9H570V303.9H571V299H572V300H573V303.7H574V302.7H575V304.3H576V302.8H577V301.9H578V303.7H579V301.3H580V304.1H581V303.1H582V304H583V304.1H584V302.3H585V300.5H586V301.6H587V296.6H588V298.3H589V304.3H590V299.2H591V301.7H592V303.9H593V304H594V301.9H595V300.6H596V298.7H597V303.9H598V302H599V300.9H600V298.4H601V300.1H602V300.2H603V302H604V302.6H605V303.5H606V302.2H607V297H608V285.6H609V300.5H610V303.8H611V302.6H612V303.4H613V300.1H614V300.2H615V303.3H616V302.4H617V300.4H618V303.7H619V301.2H620V302.8H621V297.4H622V297.7H623V300.4H624V302.5H625V303.3H626V299.6H627V297.5H628V295.5H629V302.8H630V302H631V302.2H632V301.5H633V296.8H634V300.9H635V298.5H636V302.5H637V303H638V301.1H639V299.7H640V301.2H641V298.9H642V301.1H643V300.5H644V301.4H645V300H646V301.7H647V296.8H648V299.8H649V301.7H650V302.2H651V299.9H652V297.4H653V298.7H654V299.2H655V300.3H656V297.3H657V296.9H658V302.1H659V302.3H660V302.3H661V299.1H662V299.8H663V298.1H664V298.3H665V300.3H666V302.1H666.3V319.8H666V315.9H665V316.7H664V319.7H663V317.3H662V318.3H661V317.4H660V316.6H659V317.9H658V317H657V318.4H656V316.9H655V317.3H654V317.5H653V317.7H652V318.1H651V316.9H650V317.6H649V319.7H648V319.3H647V322.8H646V318.5H645V321.9H644V317.6H643V316.5H642V316.7H641V318.2H640V317.5H639V317.2H638V317H637V318.7H636V317.2H635V318.7H634V316.2H633V318.4H632V316.4H631V320H630V319.7H629V316.8H628V316.5H627V317.2H626V319.2H625V317.4H624V318.3H623V319.7H622V318H621V317.4H620V316.6H619V318.2H618V319.7H617V316.8H616V318.7H615V317.6H614V319.2H613V321.3H612V318.8H611V316.9H610V318.1H609V317.6H608V317.6H607V318.8H606V324.8H605V320.3H604V321.6H603V321.4H602V317.1H601V316.7H600V317H599V319.2H598V319.5H597V319.6H596V318.7H595V320.3H594V320H593V318.4H592V321H591V319.6H590V319.6H589V322.3H588V321.6H587V318.3H586V317.6H585V316.8H584V319.5H583V317.8H582V318.4H581V317.5H580V320.4H579V319.2H578V317.9H577V318.5H576V320.3H575V318.2H574V319.2H573V318.9H572V318.4H571V319.3H570V317.5H569V317.6H568V317.5H567V318.5H566V316.8H565V316.7H564V318.6H563V319.6H562V316.6H561V318.3H560V318H559V317.3H558V318H557V317H556V316H555V319.1H554V318.1H553V318.1H552V318.7H551V319.9H550V319.1H549V317H548V317.7H547V317.7H546V316.5H545V316.3H544V315.6H543V316.2H542V317.6H541V319.3H540V318.4H539V315.5H538V317.3H537V316H536V315.1H535V315.2H534V315.8H533V316.9H532V320.1H531V316.6H530V316.4H529V314.7H528V315.7H527V317H526V314.3H525V314.2H524V315.1H523V314.4H522V314.5H521V315H520V317.1H519V316.2H518V316.7H517V314.2H516V315.4H515V317H514V315.8H513V314.5H512V315H511V316.5H510V316.5H509V314.9H508V319H507V314.4H506V316.4H505V317.3H504V318.5H503V318.2H502V315.2H501V315.2H500V314H499V314.6H498V314.6H497V314.6H496V315.5H495V315H494V317.7H493V315.6H492V315.4H491V314.3H490V313.6H489V313.6H488V316.4H487V317.3H486V319H485V314H484V314.1H483V315H482V314.2H481V314.1H480V315.9H479V314.4H478V318.2H477V316.8H476V314.2H475V315.2H474V315.2H473V314.3H472V316.7H471V316.3H470V318.8H469V315.7H468V317.3H467V318.4H466V317.2H465V319.3H464V318.7H463V319.2H462V317.7H461V316H460V316.4H459V316.5H458V318.1H457V318H456V317.9H455V319.5H454V318.7H453V318.5H452V319.1H451V319H450V322.8H449V320.5H448V320H447V318.3H446V320.2H445V319.7H444V319.4H443V321.4H442V321.2H441V320.8H440V320.9H439V320.7H438V324.2H437V324.9H436V325.2H435V323.5H434V323.3H433V324.3H432V325.4H431V326.3H430V325.4H429V325.3H428V325.1H427V327.6H426V329.1H425V327.6H424V328.9H423V327.7H422V327.8H421V328.6H420V331.5H419V331.6H418V332.4H417V334.3H416V337.2H415V338.2H414V338.1H413V339.4H412V342.8H411V344.2H410V345.7H409V349.3H408V353.6H407V349.2H406V271.6H405.6Z"/>
<polyline fill="none" stroke="#A8A8FA" stroke-width="1.0" points="405.6,231.8 405.7,257.4 405.9,283 406,308.6 406.1,321.1 406.3,333.5 406.4,346 406.5,347.2 406.6,348.4 406.8,349.7 406.9,350.9 407,352.1 407.2,351.4 407.3,350.8 407.4,350.1 407.6,349.4 407.7,348.7 407.8,348 407.9,347.4 408.1,346.7 408.2,346 408.3,345.6 408.5,345.1 408.6,344.7 408.7,344.2 408.9,343.8 409,343.3 409.1,342.9 409.2,342.5 409.4,342 409.5,341.6 409.6,341.1 409.8,340.7 409.9,340.3 410,339.8 410.2,339.4 410.3,338.9 410.4,338.5 410.6,338 410.7,337.6 410.8,337.2 410.9,336.9 411.1,336.6 411.2,336.3 411.3,336.1 411.5,335.8 411.6,335.5 411.7,335.2 411.9,334.9 412,334.7 412.1,334.4 412.2,334.1 412.4,333.8 412.5,333.6 412.6,333.3 412.8,333 412.9,332.7 413,332.5 413.2,332.2 413.3,331.9 413.4,331.6 413.6,331.4 413.7,331.1 413.8,330.8 413.9,330.5 414.1,330.3 414.2,330.1 414.3,329.9 414.5,329.8 414.6,329.6 414.7,329.4 414.9,329.3 415,329.1 415.1,328.9 415.2,328.7 415.4,328.6 415.5,328.4 415.6,328.2 415.8,328 415.9,327.9 416,327.7 416.2,327.5 416.3,327.4 416.4,327.2 416.5,327 416.7,326.8 416.8,326.7 416.9,326.5 417.1,326.3 417.2,326.1 417.3,326 417.5,325.8 417.6,325.6 417.7,325.5 417.9,325.3 418,325.1 418.1,324.9 418.2,324.8 418.4,324.6 418.5,324.4 418.6,324.2 418.8,324.1 418.9,324 419,323.9 419.2,323.8 419.3,323.7 419.4,323.6 419.5,323.5 419.7,323.4 419.8,323.3 419.9,323.2 420.1,323.1 420.2,323 420.3,322.8 420.5,322.7 420.6,322.6 420.7,322.5 420.9,322.4 421,322.3 421.1,322.2"/>
<line x1="476.5" y1="308.3" x2="476.5" y2="293.7" stroke="#A8A8FA" stroke-width="1"/>
<line x1="652.5" y1="309.5" x2="652.5" y2="300.3" stroke="#A8A8FA" stroke-width="1"/>
<line x1="628.5" y1="309.8" x2="628.5" y2="296.5" stroke="#A8A8FA" stroke-width="1"/>
<line x1="587.5" y1="310" x2="587.5" y2="300.9" stroke="#A8A8FA" stroke-width="1"/>
<line x1="624.5" y1="309.8" x2="624.5" y2="298.6" stroke="#A8A8FA" stroke-width="1"/>
<line x1="618.5" y1="309.9" x2="618.5" y2="297.7" stroke="#A8A8FA" stroke-width="1"/>
<line x1="607.5" y1="310" x2="607.5" y2="296.6" stroke="#A8A8FA" stroke-width="1"/>
<line x1="504.5" y1="307.6" x2="504.5" y2="294.6" stroke="#A8A8FA" stroke-width="1"/>
<line x1="658.5" y1="309.4" x2="658.5" y2="295" stroke="#A8A8FA" stroke-width="1"/>
<line x1="643.5" y1="309.6" x2="643.5" y2="300" stroke="#A8A8FA" stroke-width="1"/>
<line x1="578.5" y1="310" x2="578.5" y2="295.9" stroke="#A8A8FA" stroke-width="1"/>
<line x1="495.5" y1="307.3" x2="495.5" y2="298" stroke="#A8A8FA" stroke-width="1"/>
<line x1="604.5" y1="310" x2="604.5" y2="297.6" stroke="#A8A8FA" stroke-width="1"/>
<line x1="657.5" y1="309.4" x2="657.5" y2="298.9" stroke="#A8A8FA" stroke-width="1"/>
<line x1="443.5" y1="312.4" x2="443.5" y2="300" stroke="#A8A8FA" stroke-width="1"/>
<line x1="628.5" y1="309.8" x2="628.5" y2="296.9" stroke="#A8A8FA" stroke-width="1"/>
<line x1="447.5" y1="311.2" x2="447.5" y2="300.2" stroke="#A8A8FA" stroke-width="1"/>
<line x1="452.5" y1="310.6" x2="452.5" y2="299.2" stroke="#A8A8FA" stroke-width="1"/>
<line x1="611.5" y1="310" x2="611.5" y2="298.2" stroke="#A8A8FA" stroke-width="1"/>
<line x1="552.5" y1="309.5" x2="552.5" y2="299.1" stroke="#A8A8FA" stroke-width="1"/>
<line x1="547.5" y1="309.2" x2="547.5" y2="294.3" stroke="#A8A8FA" stroke-width="1"/>
<line x1="519.5" y1="308.1" x2="519.5" y2="297.2" stroke="#A8A8FA" stroke-width="1"/>
<line x1="590.5" y1="310" x2="590.5" y2="295.6" stroke="#A8A8FA" stroke-width="1"/>
<line x1="435.5" y1="315" x2="435.5" y2="302.1" stroke="#A8A8FA" stroke-width="1"/>
<line x1="568.5" y1="310" x2="568.5" y2="297.3" stroke="#A8A8FA" stroke-width="1"/>
<line x1="546.5" y1="309.2" x2="546.5" y2="296.1" stroke="#A8A8FA" stroke-width="1"/>
<line x1="629.5" y1="309.8" x2="629.5" y2="299.2" stroke="#A8A8FA" stroke-width="1"/>
<line x1="457.5" y1="310.1" x2="457.5" y2="300.3" stroke="#A8A8FA" stroke-width="1"/>
<line x1="556.5" y1="309.7" x2="556.5" y2="299.2" stroke="#A8A8FA" stroke-width="1"/>
<line x1="536.5" y1="308.6" x2="536.5" y2="296.5" stroke="#A8A8FA" stroke-width="1"/>
<line x1="541.5" y1="308.9" x2="541.5" y2="292.8" stroke="#A8A8FA" stroke-width="1"/>
<line x1="561.5" y1="309.9" x2="561.5" y2="294.3" stroke="#A8A8FA" stroke-width="1"/>
<line x1="617.5" y1="309.9" x2="617.5" y2="295.1" stroke="#A8A8FA" stroke-width="1"/>
<line x1="450.5" y1="310.9" x2="450.5" y2="293.3" stroke="#A8A8FA" stroke-width="1"/>
<line x1="524.5" y1="308.2" x2="524.5" y2="293.2" stroke="#A8A8FA" stroke-width="1"/>
<line x1="470.5" y1="308.6" x2="470.5" y2="292.7" stroke="#A8A8FA" stroke-width="1"/>
<line x1="623.5" y1="309.8" x2="623.5" y2="296.5" stroke="#A8A8FA" stroke-width="1"/>
<line x1="569.5" y1="310" x2="569.5" y2="296.7" stroke="#A8A8FA" stroke-width="1"/>
<line x1="527.5" y1="308.3" x2="527.5" y2="316.9" stroke="#A8A8FA" stroke-width="1"/>
<line x1="601.5" y1="310" x2="601.5" y2="321.7" stroke="#A8A8FA" stroke-width="1"/>
<line x1="553.5" y1="309.5" x2="553.5" y2="319" stroke="#A8A8FA" stroke-width="1"/>
<line x1="602.5" y1="310" x2="602.5" y2="321.2" stroke="#A8A8FA" stroke-width="1"/>
<line x1="442.5" y1="312.7" x2="442.5" y2="322.6" stroke="#A8A8FA" stroke-width="1"/>
<line x1="601.5" y1="310" x2="601.5" y2="321.6" stroke="#A8A8FA" stroke-width="1"/>
<line x1="465.5" y1="309.2" x2="465.5" y2="320.7" stroke="#A8A8FA" stroke-width="1"/>
<line x1="481.5" y1="307.9" x2="481.5" y2="318.4" stroke="#A8A8FA" stroke-width="1"/>
<line x1="627.5" y1="309.8" x2="627.5" y2="321.1" stroke="#A8A8FA" stroke-width="1"/>
<line x1="502.5" y1="307.5" x2="502.5" y2="318.4" stroke="#A8A8FA" stroke-width="1"/>
</g>
<rect x="392.5" y="224" width="286.8" height="174.5" fill="none" stroke="#626262" stroke-width="1"/>
<line x1="389.9" y1="390.2" x2="392.5" y2="390.2" stroke="#626262" stroke-width="0.8"/>
<line x1="389.9" y1="356.2" x2="392.5" y2="356.2" stroke="#626262" stroke-width="0.8"/>
<line x1="389.9" y1="322.2" x2="392.5" y2="322.2" stroke="#626262" stroke-width="0.8"/>
<line x1="389.9" y1="288.2" x2="392.5" y2="288.2" stroke="#626262" stroke-width="0.8"/>
<line x1="389.9" y1="254.2" x2="392.5" y2="254.2" stroke="#626262" stroke-width="0.8"/>
<line x1="405.6" y1="398.5" x2="405.6" y2="401.1" stroke="#626262" stroke-width="0.8"/>
<line x1="457.7" y1="398.5" x2="457.7" y2="401.1" stroke="#626262" stroke-width="0.8"/>
<line x1="509.9" y1="398.5" x2="509.9" y2="401.1" stroke="#626262" stroke-width="0.8"/>
<line x1="562" y1="398.5" x2="562" y2="401.1" stroke="#626262" stroke-width="0.8"/>
<line x1="614.2" y1="398.5" x2="614.2" y2="401.1" stroke="#626262" stroke-width="0.8"/>
<line x1="666.3" y1="398.5" x2="666.3" y2="401.1" stroke="#626262" stroke-width="0.8"/>
<rect x="597.6" y="226.8" width="77.8" height="19.6" rx="1.8" fill="#fff" fill-opacity="0.8" stroke="#ddd" stroke-width="0.8"/>
<line x1="599.8" y1="231.6" x2="615.6" y2="231.6" stroke="#F5B18C" stroke-width="1.05"/>
<line x1="599.8" y1="240.4" x2="615.6" y2="240.4" stroke="#B6B6F4" stroke-width="1.05"/>
<clipPath id="cE"><rect x="33" y="441.3" width="291.4" height="174.7"/></clipPath>
<g clip-path="url(#cE)">
<path fill="#FFA27A" d="M46.4 580.2V580.2H47V509.9H48V463.1H49V454.1H50V450.7H51V449.9H52V449.7H53V449.2H54V448.9H55V448.5H56V448.8H57V448.7H58V448.7H59V448.7H60V448.8H61V448.8H62V448.9H63V448.3H64V448.4H65V448.9H66V448.9H67V448.9H68V448.8H69V448.7H70V448.3H71V448.5H72V448.5H73V448.7H74V448.8H75V448.8H76V448.8H77V448.7H78V448.7H79V448H80V448.4H81V448.7H82V448.7H83V448.4H84V448.3H85V448.4H86V448.5H87V448.7H88V448.7H89V448.6H90V448.6H91V448.8H92V448.7H93V448.5H94V448.5H95V448.8H96V448.8H97V448.8H98V448.7H99V448.7H100V448.8H101V448.7H102V448.8H103V448.8H104V448.8H105V448.7H106V448.8H107V448.8H108V448.7H109V448.6H110V448.7H111V448.5H112V448.8H113V448.8H114V448.7H115V448.7H116V448.6H117V448.5H118V448.6H119V448.4H120V448.4H121V448.5H122V448.6H123V448.8H124V448.8H125V448.7H126V448.6H127V448.8H128V448.5H129V448.4H130V448.6H131V448.7H132V448.8H133V448.6H134V448.8H135V448.4H136V448.7H137V448.4H138V448.3H139V447.9H140V447.8H141V448H142V448.3H143V448.8H144V448.7H145V448.6H146V448.7H147V448.8H148V448.7H149V448.4H150V448.4H151V448.4H152V448.1H153V448.6H154V448.5H155V448.5H156V448.6H157V448.6H158V448.4H159V448.4H160V448.7H161V448.6H162V448.5H163V448.4H164V448.6H165V448.7H166V448.6H167V448.7H168V448.7H169V448.4H170V448.4H171V448.6H172V448.7H173V448.6H174V448.7H175V448.7H176V448.6H177V448.6H178V448.5H179V448.3H180V448H181V448.3H182V448.5H183V448.6H184V448.2H185V448.3H186V448.4H187V448.6H188V448.5H189V448.4H190V448.6H191V448.6H192V448.7H193V448.4H194V448.5H195V448.6H196V448.2H197V448.2H198V448.4H199V448.6H200V448.7H201V448.5H202V448.5H203V448.6H204V448.6H205V448.5H206V448.4H207V448.6H208V448.6H209V448.4H210V448.7H211V448.6H212V448.6H213V448.6H214V448.6H215V448.6H216V448.6H217V448.5H218V448.6H219V448.6H220V448.4H221V448.6H222V448.5H223V448.6H224V448.5H225V448.5H226V448.5H227V448.6H228V448.6H229V448.6H230V448.6H231V448.4H232V448.6H233V448.3H234V448.2H235V448.2H236V448.3H237V448.3H238V448.3H239V448.6H240V448.5H241V448.3H242V448.6H243V448.6H244V448.3H245V448.6H246V448.5H247V448.2H248V448.4H249V448.4H250V448.2H251V448.2H252V448.5H253V448.5H254V448.4H255V448.1H256V448.3H257V448.6H258V448.5H259V448.5H260V448.5H261V448.3H262V448.5H263V448.4H264V448.6H265V448.6H266V448.1H267V447.7H268V447.8H269V447.7H270V448H271V448.1H272V447.9H273V448.1H274V448.2H275V448.2H276V448.1H277V448.2H278V448.5H279V448.3H280V448.4H281V448.4H282V448.4H283V448.3H284V448.4H285V448.5H286V448.4H287V448.5H288V448.4H289V448.5H290V448.5H291V448.5H292V448.2H293V448.3H294V448.4H295V448.5H296V448.4H297V448.2H298V448.3H299V448.4H300V448.4H301V447.9H302V448.1H303V448.3H304V448.3H305V448.5H306V448.3H307V447.8H308V448.3H309V448.4H310V448.4H311V448.4H311.2V450.6H311V450.6H310V451H309V450.7H308V450.7H307V450.8H306V450.6H305V451H304V450.7H303V450.7H302V450.8H301V450.8H300V450.9H299V451H298V451.2H297V450.9H296V450.7H295V451.1H294V451H293V450.8H292V450.6H291V450.8H290V450.8H289V450.6H288V450.8H287V451H286V451H285V450.8H284V450.7H283V450.8H282V450.8H281V450.7H280V450.9H279V451.1H278V450.6H277V450.6H276V450.7H275V450.7H274V450.6H273V450.8H272V450.7H271V450.7H270V450.7H269V450.9H268V450.9H267V450.7H266V451.1H265V451H264V450.7H263V450.8H262V450.9H261V450.9H260V450.6H259V451H258V451H257V451.1H256V450.8H255V450.7H254V451.3H253V451H252V450.8H251V451H250V451.3H249V451.2H248V451.2H247V451.3H246V450.7H245V451.1H244V450.8H243V450.9H242V450.8H241V450.7H240V450.7H239V450.7H238V451H237V451.2H236V451.1H235V450.7H234V450.7H233V450.7H232V450.7H231V450.6H230V450.9H229V451.1H228V450.8H227V450.9H226V451.1H225V451.2H224V451H223V451H222V451.1H221V450.9H220V451H219V450.8H218V450.7H217V450.7H216V450.7H215V451H214V450.8H213V450.8H212V451.2H211V451.2H210V450.8H209V450.8H208V451.2H207V450.7H206V450.7H205V450.8H204V450.8H203V450.7H202V450.7H201V451.2H200V451H199V450.7H198V450.8H197V450.8H196V451.1H195V451.1H194V450.8H193V450.8H192V450.8H191V451.1H190V450.8H189V451.4H188V451.2H187V451H186V451.1H185V451H184V450.9H183V451H182V450.8H181V450.9H180V451H179V450.9H178V450.8H177V450.9H176V450.8H175V450.8H174V450.8H173V450.8H172V450.8H171V450.9H170V450.8H169V450.8H168V450.9H167V450.8H166V451.1H165V451H164V451H163V451.1H162V450.8H161V450.9H160V451.3H159V451.1H158V451H157V450.9H156V450.9H155V451.2H154V451.1H153V450.9H152V451H151V450.8H150V451.1H149V451.3H148V451.2H147V451.2H146V451.2H145V451.4H144V451.1H143V450.8H142V451.2H141V450.9H140V451.2H139V451.2H138V451.2H137V451.3H136V451.1H135V451.2H134V450.9H133V451.1H132V451.4H131V451H130V450.9H129V451H128V450.8H127V451.1H126V451H125V450.9H124V450.9H123V451.3H122V450.8H121V451H120V451.1H119V451.2H118V451.5H117V450.9H116V450.9H115V451.1H114V451.1H113V451H112V451.1H111V451.3H110V451.2H109V451.2H108V451.1H107V451.2H106V451.2H105V451.5H104V451.1H103V451H102V451.2H101V450.9H100V451.1H99V450.9H98V451.2H97V451.4H96V451H95V451.1H94V451.2H93V451.1H92V451.2H91V450.9H90V451H89V451.3H88V451H87V451H86V451H85V451.1H84V451.1H83V451H82V451.2H81V451H80V451.1H79V451.5H78V451H77V451H76V451H75V451H74V450.9H73V451H72V451.3H71V451.2H70V451H69V451H68V451H67V451.1H66V451.1H65V451H64V451.1H63V451.3H62V451.1H61V451.3H60V451.3H59V451.3H58V451H57V451H56V451.2H55V451H54V451.6H53V452.1H52V452.6H51V452.5H50V455.4H49V464H48V510.4H47V580.3H46.4Z"/>
<polyline fill="none" stroke="#FFA27A" stroke-width="1.1" points="46.4,606.9 46.5,595.1 46.7,583.4 46.8,571.6 46.9,559.8 47.1,548.3 47.2,536.8 47.3,525.2 47.5,513.7 47.6,502.2 47.7,490.6 47.9,486 48,481.4 48.1,476.8 48.3,472.2 48.4,467.6 48.5,462.9 48.7,461.8 48.8,460.7 48.9,459.6 49,458.5 49.2,457.4 49.3,456.3 49.4,455.2 49.6,454.1 49.7,453 49.8,451.9 50,451.8 50.1,451.8 50.2,451.7 50.4,451.6 50.5,451.6 50.6,451.5 50.8,451.5 50.9,451.4 51,451.4 51.2,451.3 51.3,451.2 51.4,451.2 51.6,451.1 51.7,451.1 51.8,451 52,451 52.1,450.9 52.2,450.8 52.4,450.8 52.5,450.7 52.6,450.7 52.8,450.6 52.9,450.6 53,450.5 53.2,450.4 53.3,450.4 53.4,450.3 53.5,450.3 53.7,450.2 53.8,450.2 53.9,450.1 54.1,450 54.2,450 54.3,449.9 54.5,449.9 54.6,449.9 54.7,449.9 54.9,449.9 55,449.9 55.1,449.9 55.3,449.9 55.4,449.9 55.5,449.9 55.7,449.9 55.8,449.9 55.9,449.9 56.1,449.9 56.2,449.9 56.3,449.9 56.5,449.9 56.6,449.9 56.7,449.9 56.9,449.9 57,449.9 57.1,449.9 57.3,449.9 57.4,449.9 57.5,449.9 57.7,449.9 57.8,449.9 57.9,449.9 58.1,449.9 58.2,449.9 58.3,449.9 58.4,449.9 58.6,449.9 58.7,449.9 58.8,449.9 59,449.9 59.1,449.9 59.2,449.9 59.4,449.9 59.5,449.9 59.6,449.9 59.8,449.9 59.9,449.9 60,449.9 60.2,449.9 60.3,449.9 60.4,449.9 60.6,449.9 60.7,449.9 60.8,449.9 61,449.9 61.1,449.9 61.2,449.9 61.4,449.9 61.5,449.9 61.6,449.9 61.8,449.9 61.9,449.9 62,449.9 62.2,449.9"/>
<path fill="#A8A8FA" d="M46.4 536.8V536.8H47V490H48V480.8H49V481.5H50V480.2H51V479.3H52V479.7H53V478.1H54V477.3H55V478.9H56V479.2H57V478.3H58V477.8H59V477.6H60V478.2H61V479.1H62V477.4H63V479H64V479.5H65V478.8H66V479H67V475.6H68V477.7H69V476.6H70V479.2H71V476.9H72V476.2H73V477.4H74V476.8H75V477.6H76V477.7H77V479.1H78V478.5H79V478.3H80V477.9H81V478.6H82V477.2H83V477.5H84V477.4H85V479.2H86V478.6H87V478.8H88V477.3H89V477.1H90V477.3H91V479H92V473.5H93V479.2H94V477.1H95V476.7H96V478.2H97V477.9H98V478.8H99V479.1H100V478.5H101V479.2H102V477.6H103V476.9H104V478.1H105V478.1H106V477.1H107V478.8H108V478.5H109V477.7H110V478H111V476.9H112V478H113V478.4H114V473.8H115V474.5H116V476.7H117V477.4H118V478.3H119V478.2H120V478.9H121V477.6H122V478.8H123V478.9H124V477.4H125V477H126V476.5H127V478.8H128V478.6H129V476.8H130V478.9H131V475.6H132V478.4H133V477.5H134V478.7H135V477.3H136V476.9H137V478.9H138V478.5H139V478.8H140V478.1H141V478.1H142V477.7H143V478H144V478.5H145V478.8H146V479H147V478.8H148V479.3H149V477.4H150V478.7H151V478.7H152V479.3H153V478H154V479.3H155V475.7H156V478.6H157V478.2H158V478.3H159V478.6H160V478.4H161V478.7H162V478.8H163V479.1H164V477.2H165V479.1H166V477.2H167V478.8H168V478.6H169V476.5H170V476.2H171V478.5H172V479.5H173V479.8H174V479.1H175V479.3H176V477.6H177V479.6H178V479.1H179V477.7H180V479.6H181V478.6H182V479.1H183V478.4H184V479.5H185V478.4H186V477.1H187V477.8H188V477.4H189V479.6H190V477.6H191V477.8H192V478.7H193V477.7H194V477.1H195V477.4H196V478.2H197V479.1H198V479.3H199V477.7H200V479H201V479.6H202V477.4H203V478.5H204V478.5H205V479.5H206V478H207V478.3H208V477.7H209V478.8H210V477.3H211V479.3H212V478.7H213V478.1H214V478.4H215V477.1H216V477.4H217V478.7H218V479.1H219V479.6H220V479.3H221V479.2H222V479.2H223V479.6H224V478.5H225V479.5H226V476.4H227V476.5H228V479.3H229V478.7H230V478.2H231V477.6H232V477.7H233V478H234V479.4H235V479.3H236V478.4H237V479.3H238V477H239V478.6H240V479H241V476.6H242V478.4H243V478.1H244V477.6H245V478.6H246V477.9H247V478.1H248V476.9H249V476.7H250V478.7H251V479H252V478.1H253V476.8H254V479.1H255V478.8H256V477H257V478.7H258V479H259V475.5H260V474.2H261V475.5H262V478.8H263V478H264V478.5H265V479.3H266V476.5H267V475.7H268V479.6H269V476.2H270V479.6H271V475.9H272V478.2H273V478.4H274V477.7H275V479.5H276V479.2H277V476.6H278V477.1H279V477.1H280V478.3H281V479H282V478.7H283V478.8H284V478.2H285V479.4H286V478.7H287V479.6H288V479H289V479.2H290V479.9H291V479.3H292V477.2H293V477.1H294V479H295V478H296V479.3H297V479.5H298V480H299V479.8H300V478H301V477.3H302V477.8H303V480H304V477.8H305V480.1H306V479.9H307V479.3H308V480.4H309V478.8H310V478.5H311V480.2H311.2V493.4H311V491.1H310V489.2H309V488.2H308V490.2H307V488.4H306V491H305V491H304V490.1H303V489.6H302V493.5H301V488.3H300V490.1H299V492.8H298V490.1H297V489.1H296V488H295V489.7H294V490.4H293V492.1H292V487.7H291V489.3H290V488H289V490.9H288V489.2H287V489.1H286V489.4H285V487.5H284V488.7H283V489.1H282V487.3H281V489H280V488.2H279V488.2H278V487.6H277V487.2H276V488.9H275V491.2H274V487.3H273V490.3H272V492H271V490.8H270V488.3H269V487.9H268V489.6H267V489.1H266V493H265V489.1H264V487.8H263V487.6H262V490.2H261V488.6H260V488.5H259V487.4H258V488.1H257V487H256V488.3H255V489H254V489.6H253V487.9H252V487.4H251V491.6H250V486.8H249V488.4H248V489.7H247V489.2H246V486.8H245V487.1H244V490.3H243V487H242V487.6H241V487H240V492.6H239V489.7H238V488.1H237V488.4H236V490.7H235V488.9H234V488.8H233V492.5H232V493.7H231V491H230V489.3H229V487.1H228V488.5H227V488.1H226V487.4H225V489.3H224V488.5H223V490.1H222V492.1H221V490.9H220V489.4H219V491.7H218V488.8H217V487.4H216V489.6H215V488.9H214V489.8H213V487.4H212V487.4H211V487.2H210V492.3H209V490.3H208V490.2H207V487.1H206V487.5H205V489.9H204V491.4H203V493.9H202V489.2H201V490.3H200V488.1H199V489.2H198V490.9H197V490.9H196V488.8H195V497H194V491.9H193V493.3H192V491.3H191V491.6H190V488.2H189V489.7H188V490H187V492.1H186V489.9H185V488.4H184V489.2H183V493H182V492.3H181V492H180V489.7H179V488.4H178V490.1H177V492.2H176V491.8H175V490H174V487.8H173V495.3H172V490.2H171V491.2H170V490.7H169V488.5H168V491.7H167V490.3H166V487.2H165V488.6H164V491.5H163V489.8H162V489H161V492.6H160V494.3H159V489.9H158V488.1H157V487.9H156V487.7H155V489.3H154V486.9H153V491.7H152V487.9H151V489.3H150V491.3H149V492.5H148V492.2H147V492.7H146V492.9H145V490.5H144V486.6H143V489.3H142V490H141V487.5H140V488.4H139V488.1H138V489.2H137V494.7H136V490.4H135V488.3H134V486.8H133V486.4H132V486.4H131V487H130V487.1H129V488.9H128V488.6H127V489.4H126V488.4H125V488.2H124V487.9H123V487.5H122V487H121V488.9H120V490.5H119V489.5H118V487.9H117V487.8H116V490.5H115V487.6H114V487.2H113V489.4H112V491.5H111V487.6H110V493.5H109V489.3H108V489.5H107V487.6H106V488.5H105V487.4H104V486.4H103V488.3H102V488.4H101V487.8H100V487.7H99V488.8H98V491.1H97V489.7H96V490.7H95V488H94V490.1H93V490H92V490.4H91V493H90V492.2H89V492.9H88V487.4H87V487.1H86V488.3H85V489.8H84V491.6H83V489.2H82V487.5H81V488.1H80V488.5H79V490H78V487.1H77V486.6H76V487.8H75V487.8H74V487.7H73V487H72V486.7H71V487.7H70V486.7H69V488.8H68V488.3H67V487.2H66V487.1H65V489.3H64V487.2H63V486.9H62V488H61V487.4H60V488.1H59V489.6H58V489.6H57V490.6H56V488.6H55V490.9H54V489.4H53V489.1H52V488.3H51V490.1H50V489H49V489.2H48V495.2H47V538.1H46.4Z"/>
<polyline fill="none" stroke="#A8A8FA" stroke-width="1.0" points="46.4,570.9 46.5,556.1 46.7,541.4 46.8,526.6 46.9,516.5 47.1,506.3 47.2,496.2 47.3,494.5 47.5,492.9 47.6,491.3 47.7,489.7 47.9,488.1 48,486.5 48.1,486.4 48.3,486.3 48.4,486.2 48.5,486.1 48.7,486 48.8,485.9 48.9,485.8 49,485.7 49.2,485.6 49.3,485.5 49.4,485.4 49.6,485.3 49.7,485.2 49.8,485.1 50,485 50.1,484.9 50.2,484.8 50.4,484.7 50.5,484.6 50.6,484.5 50.8,484.4 50.9,484.3 51,484.2 51.2,484.1 51.3,484 51.4,483.9 51.6,483.8 51.7,483.7 51.8,483.7 52,483.7 52.1,483.7 52.2,483.7 52.4,483.7 52.5,483.7 52.6,483.7 52.8,483.7 52.9,483.7 53,483.7 53.2,483.7 53.3,483.7 53.4,483.7 53.5,483.7 53.7,483.7 53.8,483.6 53.9,483.6 54.1,483.6 54.2,483.6 54.3,483.6 54.5,483.6 54.6,483.6 54.7,483.6 54.9,483.6 55,483.6 55.1,483.6 55.3,483.6 55.4,483.6 55.5,483.6 55.7,483.6 55.8,483.6 55.9,483.6 56.1,483.6 56.2,483.6 56.3,483.6 56.5,483.6 56.6,483.6 56.7,483.6 56.9,483.6 57,483.6 57.1,483.6 57.3,483.6 57.4,483.6 57.5,483.6 57.7,483.5 57.8,483.5 57.9,483.5 58.1,483.5 58.2,483.5 58.3,483.5 58.4,483.5 58.6,483.5 58.7,483.5 58.8,483.5 59,483.5 59.1,483.5 59.2,483.5 59.4,483.5 59.5,483.5 59.6,483.5 59.8,483.5 59.9,483.5 60,483.5 60.2,483.5 60.3,483.5 60.4,483.5 60.6,483.5 60.7,483.5 60.8,483.5 61,483.5 61.1,483.5 61.2,483.5 61.4,483.5 61.5,483.4 61.6,483.4 61.8,483.4 61.9,483.4 62,483.4 62.2,483.4"/>
<line x1="124.5" y1="482.9" x2="124.5" y2="493.9" stroke="#A8A8FA" stroke-width="1"/>
<line x1="197.5" y1="483.3" x2="197.5" y2="494.1" stroke="#A8A8FA" stroke-width="1"/>
<line x1="203.5" y1="483.3" x2="203.5" y2="494.2" stroke="#A8A8FA" stroke-width="1"/>
<line x1="185.5" y1="483.4" x2="185.5" y2="492.6" stroke="#A8A8FA" stroke-width="1"/>
<line x1="80.5" y1="483.1" x2="80.5" y2="492.6" stroke="#A8A8FA" stroke-width="1"/>
<line x1="253.5" y1="483.4" x2="253.5" y2="491.5" stroke="#A8A8FA" stroke-width="1"/>
<line x1="142.5" y1="483.1" x2="142.5" y2="493.6" stroke="#A8A8FA" stroke-width="1"/>
<line x1="195.5" y1="483.3" x2="195.5" y2="493.9" stroke="#A8A8FA" stroke-width="1"/>
<line x1="273.5" y1="483.6" x2="273.5" y2="497.2" stroke="#A8A8FA" stroke-width="1"/>
<line x1="199.5" y1="483.3" x2="199.5" y2="492.5" stroke="#A8A8FA" stroke-width="1"/>
<line x1="278.5" y1="483.6" x2="278.5" y2="496.8" stroke="#A8A8FA" stroke-width="1"/>
<line x1="172.5" y1="483.4" x2="172.5" y2="496.1" stroke="#A8A8FA" stroke-width="1"/>
<line x1="280.5" y1="483.7" x2="280.5" y2="497.4" stroke="#A8A8FA" stroke-width="1"/>
<line x1="111.5" y1="483" x2="111.5" y2="492.3" stroke="#A8A8FA" stroke-width="1"/>
<line x1="259.5" y1="483.4" x2="259.5" y2="493.1" stroke="#A8A8FA" stroke-width="1"/>
<line x1="122.5" y1="482.9" x2="122.5" y2="491.2" stroke="#A8A8FA" stroke-width="1"/>
<line x1="249.5" y1="483.3" x2="249.5" y2="492.8" stroke="#A8A8FA" stroke-width="1"/>
<line x1="95.5" y1="483" x2="95.5" y2="494.7" stroke="#A8A8FA" stroke-width="1"/>
<line x1="73.5" y1="483.1" x2="73.5" y2="495.9" stroke="#A8A8FA" stroke-width="1"/>
<line x1="72.5" y1="483.2" x2="72.5" y2="497" stroke="#A8A8FA" stroke-width="1"/>
<line x1="85.5" y1="483.1" x2="85.5" y2="491.9" stroke="#A8A8FA" stroke-width="1"/>
<line x1="171.5" y1="483.4" x2="171.5" y2="495.9" stroke="#A8A8FA" stroke-width="1"/>
<line x1="177.5" y1="483.4" x2="177.5" y2="495.7" stroke="#A8A8FA" stroke-width="1"/>
<line x1="114.5" y1="482.9" x2="114.5" y2="496.1" stroke="#A8A8FA" stroke-width="1"/>
<line x1="104.5" y1="483" x2="104.5" y2="493.4" stroke="#A8A8FA" stroke-width="1"/>
<line x1="259.5" y1="483.4" x2="259.5" y2="493.8" stroke="#A8A8FA" stroke-width="1"/>
<line x1="66.5" y1="483.3" x2="66.5" y2="495.6" stroke="#A8A8FA" stroke-width="1"/>
<line x1="74.5" y1="483.1" x2="74.5" y2="493.6" stroke="#A8A8FA" stroke-width="1"/>
<line x1="140.5" y1="483" x2="140.5" y2="494" stroke="#A8A8FA" stroke-width="1"/>
<line x1="87.5" y1="483.1" x2="87.5" y2="496.6" stroke="#A8A8FA" stroke-width="1"/>
<line x1="262.5" y1="483.5" x2="262.5" y2="494.8" stroke="#A8A8FA" stroke-width="1"/>
<line x1="129.5" y1="482.9" x2="129.5" y2="493.2" stroke="#A8A8FA" stroke-width="1"/>
<line x1="118.5" y1="482.9" x2="118.5" y2="493.4" stroke="#A8A8FA" stroke-width="1"/>
<line x1="178.5" y1="483.4" x2="178.5" y2="495.9" stroke="#A8A8FA" stroke-width="1"/>
<line x1="76.5" y1="483.1" x2="76.5" y2="496.7" stroke="#A8A8FA" stroke-width="1"/>
<line x1="285.5" y1="483.7" x2="285.5" y2="498.4" stroke="#A8A8FA" stroke-width="1"/>
<line x1="197.5" y1="483.3" x2="197.5" y2="495.8" stroke="#A8A8FA" stroke-width="1"/>
<line x1="114.5" y1="482.9" x2="114.5" y2="495.2" stroke="#A8A8FA" stroke-width="1"/>
<line x1="87.5" y1="483.1" x2="87.5" y2="498.7" stroke="#A8A8FA" stroke-width="1"/>
<line x1="109.5" y1="483" x2="109.5" y2="498.4" stroke="#A8A8FA" stroke-width="1"/>
<line x1="255.5" y1="483.4" x2="255.5" y2="497.5" stroke="#A8A8FA" stroke-width="1"/>
<line x1="230.5" y1="483.2" x2="230.5" y2="498.1" stroke="#A8A8FA" stroke-width="1"/>
<line x1="215.5" y1="483.2" x2="215.5" y2="498.2" stroke="#A8A8FA" stroke-width="1"/>
<line x1="64.5" y1="483.4" x2="64.5" y2="494.8" stroke="#A8A8FA" stroke-width="1"/>
<line x1="86.5" y1="483.1" x2="86.5" y2="500.3" stroke="#A8A8FA" stroke-width="1"/>
<line x1="88.5" y1="483.1" x2="88.5" y2="498.9" stroke="#A8A8FA" stroke-width="1"/>
<line x1="117.5" y1="482.9" x2="117.5" y2="498.9" stroke="#A8A8FA" stroke-width="1"/>
<line x1="120.5" y1="482.9" x2="120.5" y2="497.5" stroke="#A8A8FA" stroke-width="1"/>
<line x1="133.5" y1="483" x2="133.5" y2="494.8" stroke="#A8A8FA" stroke-width="1"/>
<line x1="152.5" y1="483.2" x2="152.5" y2="496.2" stroke="#A8A8FA" stroke-width="1"/>
<line x1="205.5" y1="483.3" x2="205.5" y2="496.2" stroke="#A8A8FA" stroke-width="1"/>
<line x1="258.5" y1="483.4" x2="258.5" y2="494.8" stroke="#A8A8FA" stroke-width="1"/>
<line x1="310.5" y1="484.3" x2="310.5" y2="498.9" stroke="#A8A8FA" stroke-width="1"/>
</g>
<rect x="33" y="441.3" width="291.4" height="174.7" fill="none" stroke="#626262" stroke-width="1"/>
<line x1="30.4" y1="615.2" x2="33" y2="615.2" stroke="#626262" stroke-width="0.8"/>
<line x1="30.4" y1="587.5" x2="33" y2="587.5" stroke="#626262" stroke-width="0.8"/>
<line x1="30.4" y1="559.8" x2="33" y2="559.8" stroke="#626262" stroke-width="0.8"/>
<line x1="30.4" y1="532.2" x2="33" y2="532.2" stroke="#626262" stroke-width="0.8"/>
<line x1="30.4" y1="504.5" x2="33" y2="504.5" stroke="#626262" stroke-width="0.8"/>
<line x1="30.4" y1="476.8" x2="33" y2="476.8" stroke="#626262" stroke-width="0.8"/>
<line x1="30.4" y1="449.1" x2="33" y2="449.1" stroke="#626262" stroke-width="0.8"/>
<line x1="46.4" y1="616" x2="46.4" y2="618.6" stroke="#626262" stroke-width="0.8"/>
<line x1="99.4" y1="616" x2="99.4" y2="618.6" stroke="#626262" stroke-width="0.8"/>
<line x1="152.3" y1="616" x2="152.3" y2="618.6" stroke="#626262" stroke-width="0.8"/>
<line x1="205.3" y1="616" x2="205.3" y2="618.6" stroke="#626262" stroke-width="0.8"/>
<line x1="258.2" y1="616" x2="258.2" y2="618.6" stroke="#626262" stroke-width="0.8"/>
<line x1="311.2" y1="616" x2="311.2" y2="618.6" stroke="#626262" stroke-width="0.8"/>
<rect x="244" y="593" width="76.6" height="20" rx="1.8" fill="#fff" fill-opacity="0.8" stroke="#ddd" stroke-width="0.8"/>
<line x1="246.2" y1="597.8" x2="262" y2="597.8" stroke="#F5B18C" stroke-width="1.05"/>
<line x1="246.2" y1="606.6" x2="262" y2="606.6" stroke="#B6B6F4" stroke-width="1.05"/>
<clipPath id="cF"><rect x="392.3" y="440.5" width="286.3" height="175"/></clipPath>
<g clip-path="url(#cF)">
<path fill="#FFA27A" d="M405.4 537.9V537.9H406V583.8H407V595.2H408V600.3H409V601.2H410V601.9H411V602.9H412V602.8H413V603.1H414V603.3H415V603.6H416V603.6H417V603.8H418V604H419V604.3H420V604.3H421V604.6H422V604.5H423V604.5H424V604.4H425V604.5H426V604.7H427V604.7H428V604.7H429V604.8H430V605.2H431V605.2H432V605H433V605.2H434V604.8H435V605.1H436V605.1H437V605.3H438V605.1H439V605.3H440V605.2H441V605.1H442V605H443V605.2H444V605.2H445V605.1H446V605.4H447V605.2H448V605.1H449V605.3H450V605.3H451V605.4H452V605.2H453V605.3H454V605.1H455V605.3H456V605.1H457V605.1H458V604.9H459V605.4H460V605.3H461V605.3H462V605H463V605.2H464V605.3H465V605.3H466V605.3H467V605.1H468V605.3H469V605.3H470V605H471V605.1H472V605.1H473V605.1H474V605.3H475V605.4H476V605.1H477V605.3H478V605.1H479V605.4H480V605.3H481V605.2H482V605.4H483V605.4H484V605.3H485V605.1H486V605.2H487V605.3H488V605.2H489V605.2H490V604.9H491V605.3H492V605.1H493V605.2H494V605.2H495V605.4H496V605.2H497V605.2H498V604.9H499V605.3H500V605.4H501V605.2H502V605.4H503V605.5H504V605.4H505V605.3H506V605.4H507V605.5H508V605.4H509V605.4H510V605.2H511V605.3H512V605.1H513V605.4H514V605.3H515V605.4H516V605.3H517V605.4H518V605.5H519V605.4H520V605.5H521V605.4H522V605.3H523V605.3H524V605.3H525V605.3H526V605.3H527V605.3H528V605.3H529V605.5H530V605.5H531V605.3H532V605.2H533V605.3H534V605.4H535V605.5H536V605.5H537V605.4H538V605.5H539V605.5H540V605.1H541V605.5H542V605.2H543V605.3H544V605.2H545V605H546V605.5H547V605.5H548V605.6H549V605.2H550V605.5H551V605.3H552V605.3H553V605.5H554V605.6H555V605.6H556V605.6H557V605.6H558V605.6H559V605.5H560V605.5H561V605.5H562V605.2H563V605.4H564V605.6H565V605.5H566V605.3H567V605.4H568V605.5H569V605.6H570V605.6H571V605.5H572V605.5H573V605.3H574V605.6H575V605.6H576V605.6H577V605.4H578V605.6H579V605.3H580V605.7H581V605.5H582V605.6H583V605.5H584V605.6H585V605.6H586V605.5H587V605.4H588V605.5H589V605.4H590V605.4H591V605.4H592V605.5H593V605.5H594V605.6H595V605.2H596V605.3H597V605.7H598V605.4H599V605.3H600V605.3H601V605.3H602V605.6H603V605.3H604V605.6H605V605.7H606V605.5H607V605.7H608V605.5H609V605.6H610V605.6H611V605.7H612V605.6H613V605.6H614V605H615V605.5H616V605.5H617V605.7H618V605.7H619V605.6H620V605.7H621V605.8H622V605.7H623V605.8H624V605.7H625V605.5H626V605.4H627V605.2H628V605.6H629V605.6H630V605.5H631V605.5H632V605.7H633V605.5H634V605.7H635V605.7H636V605.7H637V605.8H638V605.5H639V605.7H640V605.5H641V605.7H642V605.7H643V605.8H644V605.7H645V605.8H646V605.8H647V605.7H648V605.4H649V605.3H650V605.8H651V605.7H652V605.6H653V605.5H654V605.5H655V605.7H656V605.8H657V605.7H658V605.5H659V605.3H660V605.3H661V605.7H662V605.7H663V605.8H664V605.8H665V605.7H665.9V607H665V607.2H664V607.2H663V607H662V607H661V607.1H660V607.3H659V607.1H658V607H657V607.1H656V607.6H655V607H654V607H653V607H652V607.4H651V607.4H650V607H649V607H648V607H647V607H646V607H645V607H644V607.2H643V607.1H642V607.1H641V607H640V606.9H639V607H638V607.2H637V607H636V607.4H635V607.2H634V607.4H633V607.1H632V607.1H631V607.2H630V607H629V607.1H628V607.1H627V606.9H626V607.2H625V607.1H624V606.9H623V606.9H622V607.1H621V607.4H620V607.2H619V607.7H618V607.4H617V607H616V607.1H615V607H614V606.9H613V606.9H612V607H611V607.3H610V607.1H609V606.9H608V607.1H607V607H606V606.9H605V607.1H604V606.9H603V607.2H602V607.1H601V607.1H600V607.2H599V607.4H598V606.9H597V606.9H596V607.1H595V607H594V606.9H593V606.9H592V607.1H591V607.7H590V607.3H589V607.3H588V607H587V607H586V607H585V606.8H584V607.2H583V606.8H582V606.9H581V607H580V607H579V606.9H578V606.9H577V606.9H576V607H575V606.9H574V606.9H573V606.9H572V606.9H571V606.8H570V607.3H569V606.8H568V606.8H567V606.9H566V607H565V607H564V607.1H563V606.8H562V607H561V606.8H560V606.9H559V606.9H558V606.9H557V606.8H556V606.8H555V606.9H554V606.8H553V607.1H552V606.9H551V607.3H550V606.9H549V606.9H548V606.9H547V607H546V606.9H545V606.8H544V606.8H543V606.9H542V606.8H541V606.9H540V606.9H539V607H538V606.8H537V606.8H536V606.8H535V606.8H534V607H533V606.9H532V606.8H531V606.9H530V607H529V606.9H528V607.1H527V606.9H526V607H525V606.8H524V606.8H523V606.9H522V606.7H521V606.9H520V607H519V607H518V606.7H517V606.9H516V606.7H515V606.9H514V606.9H513V606.8H512V606.9H511V607.3H510V607.2H509V606.7H508V607H507V607.2H506V607.1H505V607H504V607.1H503V607.3H502V607.2H501V606.9H500V606.9H499V606.7H498V606.8H497V606.7H496V606.8H495V606.7H494V606.7H493V606.7H492V606.8H491V606.8H490V606.8H489V606.9H488V606.7H487V606.7H486V606.8H485V607H484V606.9H483V606.7H482V606.7H481V606.7H480V606.8H479V606.9H478V606.8H477V606.6H476V606.6H475V607H474V606.9H473V606.6H472V606.6H471V606.7H470V606.7H469V607H468V606.9H467V606.6H466V606.7H465V606.8H464V606.8H463V607.1H462V607.1H461V607.1H460V606.7H459V606.8H458V606.8H457V606.8H456V606.8H455V607H454V606.7H453V606.7H452V606.8H451V607.1H450V606.7H449V607H448V606.6H447V606.6H446V606.6H445V606.8H444V606.8H443V607H442V606.9H441V607.1H440V606.8H439V606.7H438V606.6H437V606.7H436V606.8H435V607.1H434V606.9H433V606.8H432V606.9H431V606.6H430V606.4H429V606.4H428V606.4H427V606.4H426V606.4H425V606.1H424V606.1H423V606.1H422V605.9H421V606H420V605.9H419V605.8H418V605.8H417V605.4H416V605.2H415V605.2H414V605H413V604.9H412V604.6H411V603.6H410V602.6H409V601.6H408V596H407V584.2H406V538H405.4Z"/>
<polyline fill="none" stroke="#FFA27A" stroke-width="1.1" points="405.4,447.9 405.5,491.3 405.7,534.7 405.8,545.5 405.9,556.4 406.1,567.2 406.2,578.1 406.3,580.5 406.4,582.9 406.6,585.3 406.7,587.7 406.8,590.1 407,592.5 407.1,593.3 407.2,594 407.4,594.7 407.5,595.4 407.6,596.2 407.7,596.9 407.9,597.6 408,598.3 408.1,599 408.3,599.8 408.4,600.5 408.5,601.2 408.7,601.3 408.8,601.4 408.9,601.5 409,601.7 409.2,601.8 409.3,601.9 409.4,602 409.6,602.1 409.7,602.2 409.8,602.3 410,602.4 410.1,602.6 410.2,602.7 410.3,602.8 410.5,602.9 410.6,603 410.7,603.1 410.9,603.2 411,603.3 411.1,603.4 411.3,603.6 411.4,603.7 411.5,603.8 411.7,603.9 411.8,604 411.9,604.1 412,604.1 412.2,604.1 412.3,604.2 412.4,604.2 412.6,604.2 412.7,604.2 412.8,604.2 413,604.2 413.1,604.2 413.2,604.3 413.3,604.3 413.5,604.3 413.6,604.3 413.7,604.3 413.9,604.3 414,604.4 414.1,604.4 414.3,604.4 414.4,604.4 414.5,604.4 414.6,604.4 414.8,604.4 414.9,604.5 415,604.5 415.2,604.5 415.3,604.5 415.4,604.5 415.6,604.5 415.7,604.6 415.8,604.6 416,604.6 416.1,604.6 416.2,604.6 416.3,604.6 416.5,604.7 416.6,604.7 416.7,604.7 416.9,604.7 417,604.7 417.1,604.7 417.3,604.7 417.4,604.8 417.5,604.8 417.6,604.8 417.8,604.8 417.9,604.8 418,604.8 418.2,604.9 418.3,604.9 418.4,604.9 418.6,604.9 418.7,604.9 418.8,604.9 418.9,604.9 419.1,605 419.2,605 419.3,605 419.5,605 419.6,605 419.7,605 419.9,605.1 420,605.1 420.1,605.1 420.2,605.1 420.4,605.1 420.5,605.1 420.6,605.1 420.8,605.2 420.9,605.2"/>
<path fill="#A8A8FA" d="M405.4 538.8V538.8H406V569.2H407V572.1H408V569.3H409V564.9H410V558.8H411V559.2H412V558.7H413V554.7H414V555.8H415V559.4H416V554.2H417V558.6H418V557.9H419V556.7H420V554.6H421V556.5H422V555.4H423V555.8H424V556.8H425V555.4H426V555.8H427V554.5H428V556.1H429V555.4H430V551.4H431V551.6H432V554.3H433V553H434V556.2H435V555.8H436V555H437V553.9H438V555.5H439V551.6H440V555.7H441V553H442V555.5H443V555.7H444V552.4H445V553H446V551.5H447V555.2H448V550.1H449V553.8H450V555.2H451V554.3H452V553.4H453V551.2H454V554.8H455V552.3H456V552.3H457V552.3H458V551.3H459V553.2H460V555H461V553.5H462V553.1H463V554H464V554H465V552.3H466V554.5H467V551.6H468V550.7H469V552.6H470V553.3H471V550.3H472V554H473V553.7H474V549.5H475V551.8H476V550.7H477V551H478V553.3H479V549.9H480V553.7H481V553.3H482V552.8H483V551.8H484V550.5H485V553.1H486V551H487V553.2H488V549.6H489V550.2H490V552H491V551H492V549.2H493V549.8H494V551.2H495V552.7H496V550.5H497V549.5H498V552.6H499V552.4H500V552.5H501V552.1H502V551.9H503V551.9H504V550.9H505V549.5H506V550.5H507V551H508V550.8H509V551.7H510V550.8H511V547.1H512V548.1H513V551H514V551H515V549.2H516V546.1H517V546.2H518V547H519V548.9H520V547.1H521V549.4H522V549.5H523V549.7H524V549.4H525V550.1H526V550.5H527V546.8H528V544.6H529V546.3H530V547.8H531V547.8H532V549.8H533V547.4H534V550.1H535V549.4H536V550H537V549.8H538V550.2H539V550.3H540V547.6H541V549.9H542V548.9H543V548.4H544V550.4H545V548.4H546V549.8H547V549.7H548V548.7H549V549.6H550V548.6H551V548.8H552V548.2H553V547.3H554V548.7H555V547.6H556V545.7H557V549.8H558V548.9H559V549.1H560V549.7H561V550H562V548.6H563V548.1H564V548.6H565V550H566V549.8H567V550.2H568V548.7H569V545.5H570V547.9H571V548.1H572V550.2H573V548.9H574V548.9H575V549.8H576V548.7H577V550H578V547.9H579V549.3H580V548.9H581V548.2H582V549.2H583V547.6H584V550.6H585V547.3H586V548.5H587V546.7H588V546.4H589V550.1H590V545.9H591V545.2H592V548.8H593V548.6H594V549.6H595V550.1H596V547.5H597V546.8H598V547H599V546.3H600V550.1H601V550.2H602V548.2H603V544.5H604V545.9H605V547.1H606V546.8H607V546.9H608V549.5H609V548.1H610V546.3H611V549.7H612V547.1H613V548H614V546.9H615V548.3H616V546.2H617V547H618V547.1H619V547.6H620V548.5H621V549.3H622V543.9H623V544.7H624V541.9H625V546.8H626V547.4H627V549H628V547.2H629V547.9H630V544.4H631V543.8H632V545H633V545.5H634V547.8H635V545.7H636V545.1H637V547H638V547.1H639V548.5H640V547.9H641V549H642V547.6H643V547.3H644V546.4H645V546.6H646V546.3H647V547.4H648V547.4H649V547.9H650V548.2H651V548.4H652V545.4H653V546.8H654V548.8H655V545.6H656V546.1H657V548H658V546.6H659V545.2H660V545.8H661V544.7H662V547.8H663V546.1H664V546H665V548.5H665.9V559.3H665V558.4H664V558.9H663V558.2H662V558H661V559.2H660V559H659V558.2H658V560.1H657V562H656V562.5H655V560.8H654V558.8H653V558.2H652V558H651V559.9H650V560.9H649V562H648V558.5H647V558.5H646V558.4H645V558.7H644V560.5H643V558.8H642V559H641V558.3H640V559.1H639V560.9H638V561.9H637V562.4H636V561.3H635V558.2H634V561H633V561.2H632V562.5H631V558.9H630V559.6H629V559.1H628V558.6H627V558.8H626V559H625V559.2H624V559.7H623V560.3H622V559H621V559.3H620V559.9H619V561.1H618V562.9H617V559.2H616V561.2H615V559.9H614V559.5H613V559.4H612V561H611V560.6H610V563.4H609V561.2H608V560.4H607V560H606V561.1H605V562H604V559.7H603V559.8H602V560.8H601V560.3H600V559.8H599V562.3H598V559.8H597V560.2H596V560.9H595V562H594V559.9H593V560.3H592V561.8H591V562.2H590V560.8H589V560.4H588V564H587V565H586V564.6H585V563.4H584V559.8H583V560.9H582V560.4H581V566H580V562.5H579V559.9H578V559.4H577V559.8H576V561.9H575V561.2H574V561.2H573V560.9H572V563.4H571V560.4H570V561.4H569V560.6H568V559.2H567V559.4H566V562.6H565V559.8H564V560.1H563V559.3H562V561.3H561V561.4H560V560.2H559V560.7H558V559.3H557V560H556V560.3H555V560.5H554V560.1H553V560.3H552V558.9H551V559H550V559.4H549V559.5H548V561.4H547V559.4H546V560.2H545V562.5H544V561.1H543V560.6H542V560.5H541V561.3H540V560H539V560H538V559.5H537V560.2H536V559.7H535V560.9H534V560.9H533V559.7H532V560.1H531V562.2H530V559.6H529V560.7H528V559.9H527V560.3H526V560.1H525V559.8H524V560.9H523V561H522V562.9H521V563.4H520V559.9H519V560.9H518V560.8H517V561H516V561H515V561.2H514V561.4H513V562.2H512V563.5H511V563.7H510V564.5H509V560.7H508V561.8H507V562.9H506V561.3H505V562.9H504V561.2H503V561.1H502V561.4H501V562.5H500V561.3H499V562.3H498V562.1H497V563H496V563.9H495V563.2H494V561.7H493V565.3H492V563.7H491V563H490V562.4H489V563.1H488V564.9H487V562H486V562.3H485V562.6H484V562.6H483V563.3H482V563.5H481V562.9H480V562.9H479V562.8H478V564H477V564H476V563.3H475V563.5H474V562.7H473V562.9H472V562.9H471V563.2H470V563.1H469V563.9H468V563H467V565.4H466V566.9H465V563.6H464V563.6H463V563.4H462V564.7H461V563.4H460V565H459V565.3H458V564.3H457V564H456V564.8H455V563.8H454V565.7H453V564.2H452V565H451V564.4H450V567.1H449V565.4H448V565.8H447V565.7H446V565.6H445V564.7H444V565H443V566.6H442V567.5H441V567.3H440V566H439V564.9H438V565.6H437V566.2H436V566.2H435V565.9H434V566.9H433V566H432V567.1H431V568.1H430V567.3H429V565.5H428V567.1H427V569.3H426V566.3H425V566.5H424V567.3H423V565.7H422V566.1H421V567H420V567H419V568.8H418V569.1H417V568.7H416V567.9H415V569.3H414V570.1H413V570.2H412V570.4H411V572.4H410V573.6H409V577H408V579.5H407V574.8H406V540.1H405.4Z"/>
<polyline fill="none" stroke="#A8A8FA" stroke-width="1.0" points="405.4,507.9 405.5,521.7 405.7,535.4 405.8,549.2 405.9,554.6 406.1,560 406.2,565.4 406.3,570.9 406.4,571.6 406.6,572.3 406.7,573 406.8,573.7 407,574.5 407.1,575.2 407.2,575.9 407.4,575.6 407.5,575.2 407.6,574.9 407.7,574.6 407.9,574.2 408,573.9 408.1,573.6 408.3,573.2 408.4,572.9 408.5,572.6 408.7,572.2 408.8,571.9 408.9,571.6 409,571.2 409.2,570.9 409.3,570.6 409.4,570.2 409.6,569.9 409.7,569.6 409.8,569.2 410,568.9 410.1,568.6 410.2,568.2 410.3,567.9 410.5,567.6 410.6,567.2 410.7,567.1 410.9,567.1 411,567 411.1,566.9 411.3,566.8 411.4,566.7 411.5,566.6 411.7,566.5 411.8,566.4 411.9,566.3 412,566.2 412.2,566.2 412.3,566.1 412.4,566 412.6,565.9 412.7,565.8 412.8,565.7 413,565.6 413.1,565.5 413.2,565.4 413.3,565.3 413.5,565.2 413.6,565.2 413.7,565.1 413.9,565 414,564.9 414.1,564.8 414.3,564.7 414.4,564.6 414.5,564.5 414.6,564.4 414.8,564.3 414.9,564.3 415,564.2 415.2,564.1 415.3,564 415.4,563.9 415.6,563.8 415.7,563.7 415.8,563.6 416,563.6 416.1,563.5 416.2,563.5 416.3,563.5 416.5,563.4 416.6,563.4 416.7,563.4 416.9,563.3 417,563.3 417.1,563.3 417.3,563.2 417.4,563.2 417.5,563.2 417.6,563.1 417.8,563.1 417.9,563 418,563 418.2,563 418.3,562.9 418.4,562.9 418.6,562.9 418.7,562.8 418.8,562.8 418.9,562.8 419.1,562.7 419.2,562.7 419.3,562.6 419.5,562.6 419.6,562.6 419.7,562.5 419.9,562.5 420,562.5 420.1,562.4 420.2,562.4 420.4,562.4 420.5,562.3 420.6,562.3 420.8,562.2 420.9,562.2"/>
<line x1="450.5" y1="559.8" x2="450.5" y2="549.2" stroke="#A8A8FA" stroke-width="1"/>
<line x1="625.5" y1="553.9" x2="625.5" y2="540.6" stroke="#A8A8FA" stroke-width="1"/>
<line x1="484.5" y1="558.2" x2="484.5" y2="546.5" stroke="#A8A8FA" stroke-width="1"/>
<line x1="550.5" y1="554.3" x2="550.5" y2="542.7" stroke="#A8A8FA" stroke-width="1"/>
<line x1="592.5" y1="554.8" x2="592.5" y2="544.8" stroke="#A8A8FA" stroke-width="1"/>
<line x1="505.5" y1="557" x2="505.5" y2="545.8" stroke="#A8A8FA" stroke-width="1"/>
<line x1="603.5" y1="554.5" x2="603.5" y2="538.8" stroke="#A8A8FA" stroke-width="1"/>
<line x1="542.5" y1="554.7" x2="542.5" y2="538.5" stroke="#A8A8FA" stroke-width="1"/>
<line x1="430.5" y1="561" x2="430.5" y2="546.6" stroke="#A8A8FA" stroke-width="1"/>
<line x1="476.5" y1="558.5" x2="476.5" y2="548" stroke="#A8A8FA" stroke-width="1"/>
<line x1="553.5" y1="554.3" x2="553.5" y2="544.6" stroke="#A8A8FA" stroke-width="1"/>
<line x1="420.5" y1="562.4" x2="420.5" y2="551.1" stroke="#A8A8FA" stroke-width="1"/>
<line x1="563.5" y1="554.5" x2="563.5" y2="540.2" stroke="#A8A8FA" stroke-width="1"/>
<line x1="618.5" y1="554.1" x2="618.5" y2="542.5" stroke="#A8A8FA" stroke-width="1"/>
<line x1="577.5" y1="554.7" x2="577.5" y2="537.9" stroke="#A8A8FA" stroke-width="1"/>
<line x1="654.5" y1="553.1" x2="654.5" y2="542.4" stroke="#A8A8FA" stroke-width="1"/>
<line x1="500.5" y1="557.3" x2="500.5" y2="546.7" stroke="#A8A8FA" stroke-width="1"/>
<line x1="563.5" y1="554.5" x2="563.5" y2="541.6" stroke="#A8A8FA" stroke-width="1"/>
<line x1="558.5" y1="554.4" x2="558.5" y2="543" stroke="#A8A8FA" stroke-width="1"/>
<line x1="647.5" y1="553.3" x2="647.5" y2="543.4" stroke="#A8A8FA" stroke-width="1"/>
<line x1="663.5" y1="552.8" x2="663.5" y2="537.2" stroke="#A8A8FA" stroke-width="1"/>
<line x1="603.5" y1="554.5" x2="603.5" y2="540.5" stroke="#A8A8FA" stroke-width="1"/>
<line x1="655.5" y1="553.1" x2="655.5" y2="540.3" stroke="#A8A8FA" stroke-width="1"/>
<line x1="654.5" y1="553.1" x2="654.5" y2="536.5" stroke="#A8A8FA" stroke-width="1"/>
<line x1="428.5" y1="561.1" x2="428.5" y2="547.9" stroke="#A8A8FA" stroke-width="1"/>
<line x1="442.5" y1="560.2" x2="442.5" y2="545.5" stroke="#A8A8FA" stroke-width="1"/>
<line x1="428.5" y1="561.1" x2="428.5" y2="544.6" stroke="#A8A8FA" stroke-width="1"/>
<line x1="463.5" y1="559" x2="463.5" y2="546.6" stroke="#A8A8FA" stroke-width="1"/>
<line x1="417.5" y1="563.1" x2="417.5" y2="549.6" stroke="#A8A8FA" stroke-width="1"/>
<line x1="607.5" y1="554.4" x2="607.5" y2="538.2" stroke="#A8A8FA" stroke-width="1"/>
<line x1="445.5" y1="560.1" x2="445.5" y2="548.8" stroke="#A8A8FA" stroke-width="1"/>
<line x1="511.5" y1="556.5" x2="511.5" y2="545.6" stroke="#A8A8FA" stroke-width="1"/>
<line x1="471.5" y1="558.7" x2="471.5" y2="546.9" stroke="#A8A8FA" stroke-width="1"/>
<line x1="578.5" y1="554.8" x2="578.5" y2="544.2" stroke="#A8A8FA" stroke-width="1"/>
<line x1="659.5" y1="552.9" x2="659.5" y2="543.6" stroke="#A8A8FA" stroke-width="1"/>
<line x1="487.5" y1="558.1" x2="487.5" y2="543.6" stroke="#A8A8FA" stroke-width="1"/>
<line x1="468.5" y1="558.8" x2="468.5" y2="545.5" stroke="#A8A8FA" stroke-width="1"/>
<line x1="520.5" y1="555.8" x2="520.5" y2="544.4" stroke="#A8A8FA" stroke-width="1"/>
<line x1="517.5" y1="556" x2="517.5" y2="545" stroke="#A8A8FA" stroke-width="1"/>
<line x1="567.5" y1="554.5" x2="567.5" y2="542.9" stroke="#A8A8FA" stroke-width="1"/>
<line x1="445.5" y1="560.1" x2="445.5" y2="539.7" stroke="#A8A8FA" stroke-width="1"/>
<line x1="484.5" y1="558.2" x2="484.5" y2="540.7" stroke="#A8A8FA" stroke-width="1"/>
<line x1="443.5" y1="560.2" x2="443.5" y2="541" stroke="#A8A8FA" stroke-width="1"/>
<line x1="439.5" y1="560.4" x2="439.5" y2="541.8" stroke="#A8A8FA" stroke-width="1"/>
<line x1="642.5" y1="553.4" x2="642.5" y2="538.2" stroke="#A8A8FA" stroke-width="1"/>
<line x1="483.5" y1="558.2" x2="483.5" y2="537.7" stroke="#A8A8FA" stroke-width="1"/>
<line x1="487.5" y1="558.1" x2="487.5" y2="536.6" stroke="#A8A8FA" stroke-width="1"/>
<line x1="568.5" y1="554.6" x2="568.5" y2="536.9" stroke="#A8A8FA" stroke-width="1"/>
<line x1="512.5" y1="556.4" x2="512.5" y2="540.1" stroke="#A8A8FA" stroke-width="1"/>
<line x1="624.5" y1="553.9" x2="624.5" y2="536.6" stroke="#A8A8FA" stroke-width="1"/>
<line x1="475.5" y1="558.6" x2="475.5" y2="542.2" stroke="#A8A8FA" stroke-width="1"/>
<line x1="533.5" y1="555.1" x2="533.5" y2="538" stroke="#A8A8FA" stroke-width="1"/>
<line x1="413.5" y1="565.4" x2="413.5" y2="549.2" stroke="#A8A8FA" stroke-width="1"/>
<line x1="421.5" y1="562.2" x2="421.5" y2="547.7" stroke="#A8A8FA" stroke-width="1"/>
<line x1="439.5" y1="560.4" x2="439.5" y2="547" stroke="#A8A8FA" stroke-width="1"/>
<line x1="441.5" y1="560.3" x2="441.5" y2="544.1" stroke="#A8A8FA" stroke-width="1"/>
<line x1="448.5" y1="559.9" x2="448.5" y2="536.9" stroke="#A8A8FA" stroke-width="1"/>
<line x1="450.5" y1="559.7" x2="450.5" y2="534.7" stroke="#A8A8FA" stroke-width="1"/>
<line x1="465.5" y1="559" x2="465.5" y2="536.1" stroke="#A8A8FA" stroke-width="1"/>
<line x1="480.5" y1="558.3" x2="480.5" y2="541.9" stroke="#A8A8FA" stroke-width="1"/>
<line x1="491.5" y1="557.9" x2="491.5" y2="534.7" stroke="#A8A8FA" stroke-width="1"/>
<line x1="504.5" y1="557" x2="504.5" y2="540.5" stroke="#A8A8FA" stroke-width="1"/>
<line x1="525.5" y1="555.5" x2="525.5" y2="538.3" stroke="#A8A8FA" stroke-width="1"/>
<line x1="543.5" y1="554.6" x2="543.5" y2="541.9" stroke="#A8A8FA" stroke-width="1"/>
<line x1="566.5" y1="554.5" x2="566.5" y2="539.8" stroke="#A8A8FA" stroke-width="1"/>
<line x1="598.5" y1="554.7" x2="598.5" y2="541.9" stroke="#A8A8FA" stroke-width="1"/>
<line x1="632.5" y1="553.7" x2="632.5" y2="534.7" stroke="#A8A8FA" stroke-width="1"/>
<line x1="650.5" y1="553.2" x2="650.5" y2="540.5" stroke="#A8A8FA" stroke-width="1"/>
<line x1="664.5" y1="552.8" x2="664.5" y2="528.9" stroke="#A8A8FA" stroke-width="1"/>
</g>
<rect x="392.3" y="440.5" width="286.3" height="175" fill="none" stroke="#626262" stroke-width="1"/>
<line x1="389.7" y1="607" x2="392.3" y2="607" stroke="#626262" stroke-width="0.8"/>
<line x1="389.7" y1="570.9" x2="392.3" y2="570.9" stroke="#626262" stroke-width="0.8"/>
<line x1="389.7" y1="534.7" x2="392.3" y2="534.7" stroke="#626262" stroke-width="0.8"/>
<line x1="389.7" y1="498.6" x2="392.3" y2="498.6" stroke="#626262" stroke-width="0.8"/>
<line x1="389.7" y1="462.4" x2="392.3" y2="462.4" stroke="#626262" stroke-width="0.8"/>
<line x1="405.4" y1="615.5" x2="405.4" y2="618.1" stroke="#626262" stroke-width="0.8"/>
<line x1="457.5" y1="615.5" x2="457.5" y2="618.1" stroke="#626262" stroke-width="0.8"/>
<line x1="509.6" y1="615.5" x2="509.6" y2="618.1" stroke="#626262" stroke-width="0.8"/>
<line x1="561.7" y1="615.5" x2="561.7" y2="618.1" stroke="#626262" stroke-width="0.8"/>
<line x1="613.8" y1="615.5" x2="613.8" y2="618.1" stroke="#626262" stroke-width="0.8"/>
<line x1="665.9" y1="615.5" x2="665.9" y2="618.1" stroke="#626262" stroke-width="0.8"/>
<rect x="596.6" y="443.4" width="78.4" height="19.6" rx="1.8" fill="#fff" fill-opacity="0.8" stroke="#ddd" stroke-width="0.8"/>
<line x1="598.8" y1="448.2" x2="614.6" y2="448.2" stroke="#F5B18C" stroke-width="1.05"/>
<line x1="598.8" y1="457" x2="614.6" y2="457" stroke="#B6B6F4" stroke-width="1.05"/>
</g>
<defs><filter id="tb" x="0" y="0" width="685" height="637" filterUnits="userSpaceOnUse" color-interpolation-filters="sRGB"><feConvolveMatrix order="3" kernelMatrix="1 8 1 8 64 8 1 8 1" divisor="100" edgeMode="duplicate"/></filter></defs><g filter="url(#tb)">
<text class="t" transform="translate(17.43 173.6) scale(1.12 1)" textLength="9.44" lengthAdjust="spacing">0.3</text>
<text class="t" transform="translate(17.43 151.06) scale(1.12 1)" textLength="9.44" lengthAdjust="spacing">0.4</text>
<text class="t" transform="translate(17.43 128.51) scale(1.12 1)" textLength="9.44" lengthAdjust="spacing">0.5</text>
<text class="t" transform="translate(17.43 105.97) scale(1.12 1)" textLength="9.44" lengthAdjust="spacing">0.6</text>
<text class="t" transform="translate(17.43 83.43) scale(1.12 1)" textLength="9.44" lengthAdjust="spacing">0.7</text>
<text class="t" transform="translate(17.43 60.89) scale(1.12 1)" textLength="9.44" lengthAdjust="spacing">0.8</text>
<text class="t" transform="translate(17.43 38.34) scale(1.12 1)" textLength="9.44" lengthAdjust="spacing">0.9</text>
<text class="t" transform="translate(17.43 15.8) scale(1.12 1)" textLength="9.44" lengthAdjust="spacing">1.0</text>
<text class="t" transform="translate(44.59 188.8) scale(1.12 1)" textLength="3.78" lengthAdjust="spacing">0</text>
<text class="t" transform="translate(91.14 188.8) scale(1.12 1)" textLength="15.1" lengthAdjust="spacing">2000</text>
<text class="t" transform="translate(144.04 188.8) scale(1.12 1)" textLength="15.1" lengthAdjust="spacing">4000</text>
<text class="t" transform="translate(196.94 188.8) scale(1.12 1)" textLength="15.1" lengthAdjust="spacing">6000</text>
<text class="t" transform="translate(249.84 188.8) scale(1.12 1)" textLength="15.1" lengthAdjust="spacing">8000</text>
<text class="t" transform="translate(300.63 188.8) scale(1.12 1)" textLength="18.88" lengthAdjust="spacing">10000</text>
<text class="s" font-size="13.0" transform="translate(9.6,98.4) rotate(-90)" x="0" y="0">acc</text>
<text class="s" font-size="10.7" x="160.5" y="197.8">Epochs</text>
<text class="lg" transform="translate(267.5 164.1) scale(1.12 1)" textLength="38.28" lengthAdjust="spacing">Training acc</text>
<text class="lg" transform="translate(267.5 173.1) scale(1.12 1)" textLength="44.05" lengthAdjust="spacing">Validation acc</text>
<text class="t" transform="translate(372.43 174.8) scale(1.12 1)" textLength="9.44" lengthAdjust="spacing">0.0</text>
<text class="t" transform="translate(372.43 140.8) scale(1.12 1)" textLength="9.44" lengthAdjust="spacing">0.2</text>
<text class="t" transform="translate(372.43 106.8) scale(1.12 1)" textLength="9.44" lengthAdjust="spacing">0.4</text>
<text class="t" transform="translate(372.43 72.8) scale(1.12 1)" textLength="9.44" lengthAdjust="spacing">0.6</text>
<text class="t" transform="translate(372.43 38.8) scale(1.12 1)" textLength="9.44" lengthAdjust="spacing">0.8</text>
<text class="t" transform="translate(399.49 188.4) scale(1.12 1)" textLength="3.78" lengthAdjust="spacing">0</text>
<text class="t" transform="translate(446.1 188.4) scale(1.12 1)" textLength="15.1" lengthAdjust="spacing">2000</text>
<text class="t" transform="translate(499.06 188.4) scale(1.12 1)" textLength="15.1" lengthAdjust="spacing">4000</text>
<text class="t" transform="translate(552.02 188.4) scale(1.12 1)" textLength="15.1" lengthAdjust="spacing">6000</text>
<text class="t" transform="translate(604.98 188.4) scale(1.12 1)" textLength="15.1" lengthAdjust="spacing">8000</text>
<text class="t" transform="translate(655.83 188.4) scale(1.12 1)" textLength="18.88" lengthAdjust="spacing">10000</text>
<text class="s" font-size="12.0" transform="translate(363.3,109.8) rotate(-90)" x="0" y="0">loss</text>
<text class="s" font-size="10.7" x="514.3" y="197.6">Epochs</text>
<text class="lg" transform="translate(620.5 15.3) scale(1.12 1)" textLength="39.65" lengthAdjust="spacing">Training loss</text>
<text class="lg" transform="translate(620.5 24.3) scale(1.12 1)" textLength="45.42" lengthAdjust="spacing">Validation loss</text>
<text class="t" transform="translate(17.93 390.4) scale(1.12 1)" textLength="9.44" lengthAdjust="spacing">0.4</text>
<text class="t" transform="translate(17.93 364.15) scale(1.12 1)" textLength="9.44" lengthAdjust="spacing">0.5</text>
<text class="t" transform="translate(17.93 337.9) scale(1.12 1)" textLength="9.44" lengthAdjust="spacing">0.6</text>
<text class="t" transform="translate(17.93 311.65) scale(1.12 1)" textLength="9.44" lengthAdjust="spacing">0.7</text>
<text class="t" transform="translate(17.93 285.4) scale(1.12 1)" textLength="9.44" lengthAdjust="spacing">0.8</text>
<text class="t" transform="translate(17.93 259.15) scale(1.12 1)" textLength="9.44" lengthAdjust="spacing">0.9</text>
<text class="t" transform="translate(17.93 232.9) scale(1.12 1)" textLength="9.44" lengthAdjust="spacing">1.0</text>
<text class="t" transform="translate(45.29 406) scale(1.12 1)" textLength="3.78" lengthAdjust="spacing">0</text>
<text class="t" transform="translate(91.9 406) scale(1.12 1)" textLength="15.1" lengthAdjust="spacing">2000</text>
<text class="t" transform="translate(144.86 406) scale(1.12 1)" textLength="15.1" lengthAdjust="spacing">4000</text>
<text class="t" transform="translate(197.82 406) scale(1.12 1)" textLength="15.1" lengthAdjust="spacing">6000</text>
<text class="t" transform="translate(250.78 406) scale(1.12 1)" textLength="15.1" lengthAdjust="spacing">8000</text>
<text class="t" transform="translate(301.63 406) scale(1.12 1)" textLength="18.88" lengthAdjust="spacing">10000</text>
<text class="s" font-size="13.0" transform="translate(9,328.6) rotate(-90)" x="0" y="0">acc</text>
<text class="s" font-size="10.7" x="161.3" y="416">Epochs</text>
<text class="lg" transform="translate(267.9 381.2) scale(1.12 1)" textLength="38.28" lengthAdjust="spacing">Training acc</text>
<text class="lg" transform="translate(267.9 390.2) scale(1.12 1)" textLength="44.05" lengthAdjust="spacing">Validation acc</text>
<text class="t" transform="translate(372.2 392.6) scale(1.12 1)" textLength="13.22" lengthAdjust="spacing">0.00</text>
<text class="t" transform="translate(372.2 358.6) scale(1.12 1)" textLength="13.22" lengthAdjust="spacing">0.05</text>
<text class="t" transform="translate(372.2 324.6) scale(1.12 1)" textLength="13.22" lengthAdjust="spacing">0.10</text>
<text class="t" transform="translate(372.2 290.6) scale(1.12 1)" textLength="13.22" lengthAdjust="spacing">0.15</text>
<text class="t" transform="translate(372.2 256.6) scale(1.12 1)" textLength="13.22" lengthAdjust="spacing">0.20</text>
<text class="t" transform="translate(403.49 407.2) scale(1.12 1)" textLength="3.78" lengthAdjust="spacing">0</text>
<text class="t" transform="translate(449.28 407.2) scale(1.12 1)" textLength="15.1" lengthAdjust="spacing">2000</text>
<text class="t" transform="translate(501.42 407.2) scale(1.12 1)" textLength="15.1" lengthAdjust="spacing">4000</text>
<text class="t" transform="translate(553.56 407.2) scale(1.12 1)" textLength="15.1" lengthAdjust="spacing">6000</text>
<text class="t" transform="translate(605.7 407.2) scale(1.12 1)" textLength="15.1" lengthAdjust="spacing">8000</text>
<text class="t" transform="translate(655.73 407.2) scale(1.12 1)" textLength="18.88" lengthAdjust="spacing">10000</text>
<text class="s" font-size="12.0" transform="translate(363.7,324.9) rotate(-90)" x="0" y="0">loss</text>
<text class="s" font-size="10.7" x="517.5" y="416">Epochs</text>
<text class="lg" transform="translate(620.5 233.6) scale(1.12 1)" textLength="39.65" lengthAdjust="spacing">Training loss</text>
<text class="lg" transform="translate(620.5 242.6) scale(1.12 1)" textLength="45.42" lengthAdjust="spacing">Validation loss</text>
<text class="t" transform="translate(16.93 617.6) scale(1.12 1)" textLength="9.44" lengthAdjust="spacing">0.4</text>
<text class="t" transform="translate(16.93 589.92) scale(1.12 1)" textLength="9.44" lengthAdjust="spacing">0.5</text>
<text class="t" transform="translate(16.93 562.23) scale(1.12 1)" textLength="9.44" lengthAdjust="spacing">0.6</text>
<text class="t" transform="translate(16.93 534.55) scale(1.12 1)" textLength="9.44" lengthAdjust="spacing">0.7</text>
<text class="t" transform="translate(16.93 506.87) scale(1.12 1)" textLength="9.44" lengthAdjust="spacing">0.8</text>
<text class="t" transform="translate(16.93 479.18) scale(1.12 1)" textLength="9.44" lengthAdjust="spacing">0.9</text>
<text class="t" transform="translate(16.93 451.5) scale(1.12 1)" textLength="9.44" lengthAdjust="spacing">1.0</text>
<text class="t" transform="translate(44.29 624.8) scale(1.12 1)" textLength="3.78" lengthAdjust="spacing">0</text>
<text class="t" transform="translate(90.9 624.8) scale(1.12 1)" textLength="15.1" lengthAdjust="spacing">2000</text>
<text class="t" transform="translate(143.86 624.8) scale(1.12 1)" textLength="15.1" lengthAdjust="spacing">4000</text>
<text class="t" transform="translate(196.82 624.8) scale(1.12 1)" textLength="15.1" lengthAdjust="spacing">6000</text>
<text class="t" transform="translate(249.78 624.8) scale(1.12 1)" textLength="15.1" lengthAdjust="spacing">8000</text>
<text class="t" transform="translate(300.63 624.8) scale(1.12 1)" textLength="18.88" lengthAdjust="spacing">10000</text>
<text class="s" font-size="13.0" transform="translate(8,553.3) rotate(-90)" x="0" y="0">acc</text>
<text class="s" font-size="10.7" x="160.3" y="633">Epochs</text>
<text class="lg" transform="translate(266.9 599.8) scale(1.12 1)" textLength="38.28" lengthAdjust="spacing">Training acc</text>
<text class="lg" transform="translate(266.9 608.8) scale(1.12 1)" textLength="44.05" lengthAdjust="spacing">Validation acc</text>
<text class="t" transform="translate(372 609.4) scale(1.12 1)" textLength="13.22" lengthAdjust="spacing">0.00</text>
<text class="t" transform="translate(372 573.25) scale(1.12 1)" textLength="13.22" lengthAdjust="spacing">0.05</text>
<text class="t" transform="translate(372 537.1) scale(1.12 1)" textLength="13.22" lengthAdjust="spacing">0.10</text>
<text class="t" transform="translate(372 500.95) scale(1.12 1)" textLength="13.22" lengthAdjust="spacing">0.15</text>
<text class="t" transform="translate(372 464.8) scale(1.12 1)" textLength="13.22" lengthAdjust="spacing">0.20</text>
<text class="t" transform="translate(403.29 624) scale(1.12 1)" textLength="3.78" lengthAdjust="spacing">0</text>
<text class="t" transform="translate(449.04 624) scale(1.12 1)" textLength="15.1" lengthAdjust="spacing">2000</text>
<text class="t" transform="translate(501.14 624) scale(1.12 1)" textLength="15.1" lengthAdjust="spacing">4000</text>
<text class="t" transform="translate(553.24 624) scale(1.12 1)" textLength="15.1" lengthAdjust="spacing">6000</text>
<text class="t" transform="translate(605.34 624) scale(1.12 1)" textLength="15.1" lengthAdjust="spacing">8000</text>
<text class="t" transform="translate(655.33 624) scale(1.12 1)" textLength="18.88" lengthAdjust="spacing">10000</text>
<text class="s" font-size="12.0" transform="translate(363.7,542.9) rotate(-90)" x="0" y="0">loss</text>
<text class="s" font-size="10.7" x="517.9" y="633">Epochs</text>
<text class="lg" transform="translate(619.5 450.2) scale(1.12 1)" textLength="39.65" lengthAdjust="spacing">Training loss</text>
<text class="lg" transform="translate(619.5 459.2) scale(1.12 1)" textLength="45.42" lengthAdjust="spacing">Validation loss</text>
</g></svg></body></html>
